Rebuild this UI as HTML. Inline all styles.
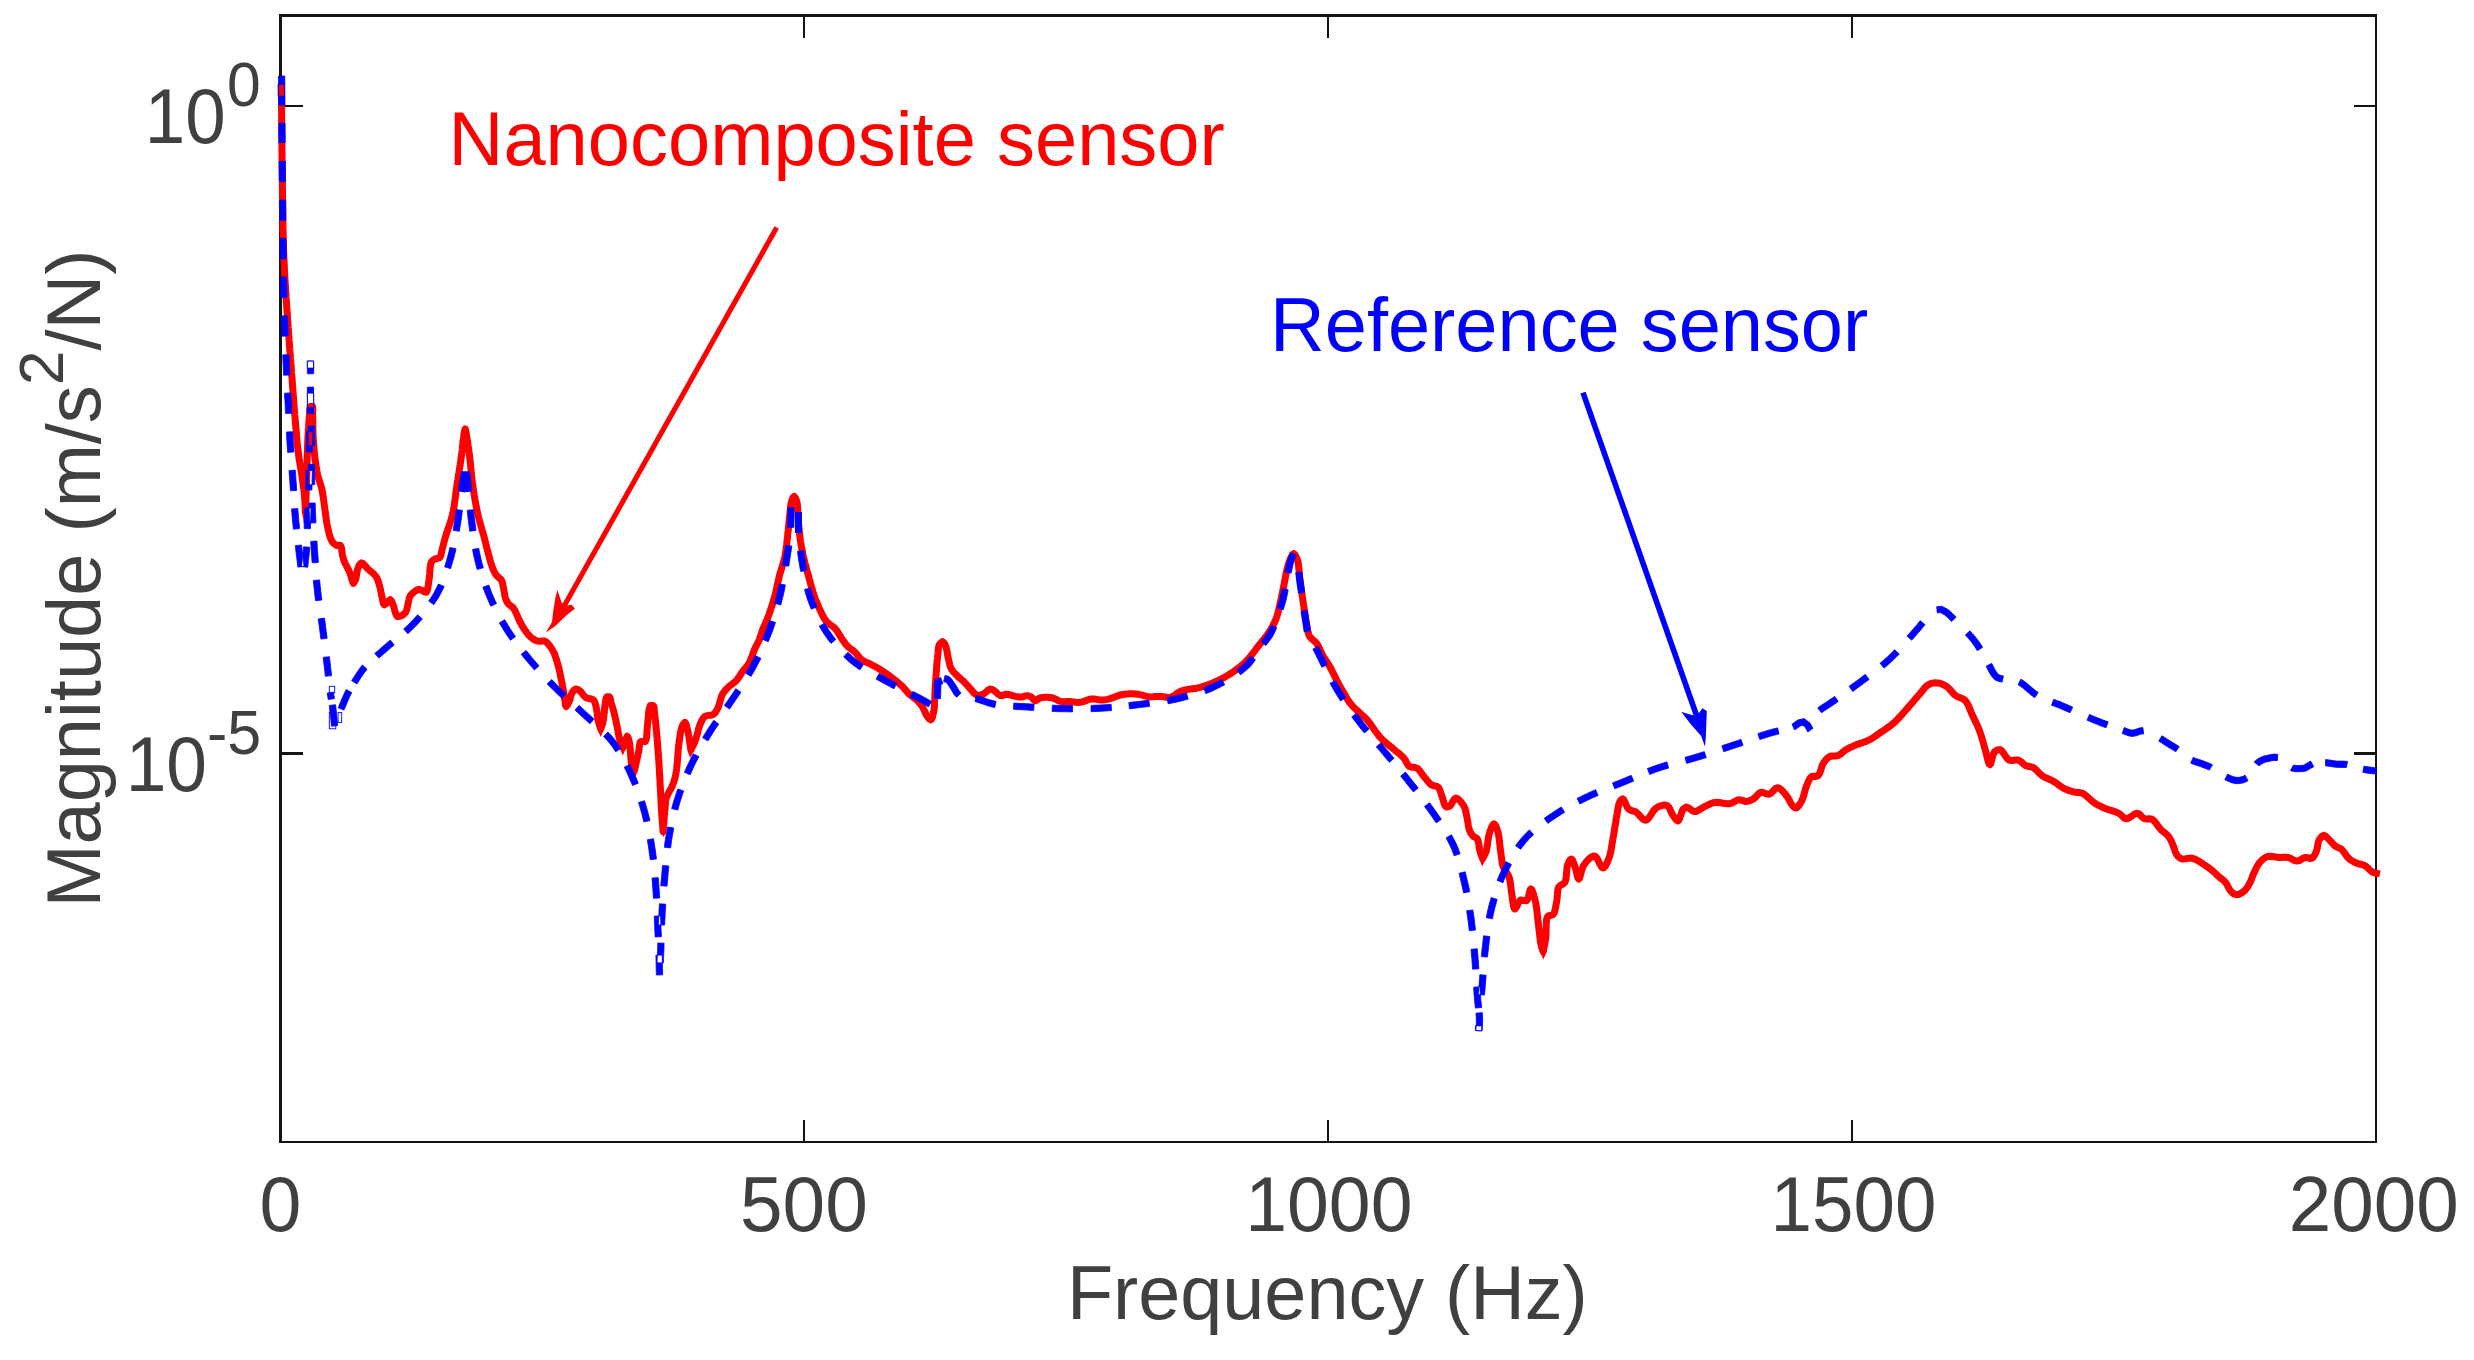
<!DOCTYPE html>
<html lang="en"><head><meta charset="utf-8"><title>Frequency response</title>
<style>html,body{margin:0;padding:0;background:#fff}body{width:2474px;height:1360px;position:relative;overflow:hidden}</style></head>
<body>
<svg width="2474" height="1360" viewBox="0 0 2474 1360" style="display:block;position:absolute;left:0;top:0">
<rect x="0" y="0" width="2474" height="1360" fill="#fff"/>
<g fill="#141414" shape-rendering="crispEdges">
<rect x="279" y="14" width="2098" height="3"/>
<rect x="279" y="1141" width="2098" height="2"/>
<rect x="279" y="14" width="3" height="1129"/>
<rect x="2375" y="14" width="2" height="1129"/>
<rect x="803" y="1120" width="2" height="22"/>
<rect x="803" y="16" width="2" height="22"/>
<rect x="1327" y="1120" width="2" height="22"/>
<rect x="1327" y="16" width="2" height="22"/>
<rect x="1851" y="1120" width="2" height="22"/>
<rect x="1851" y="16" width="2" height="22"/>
<rect x="281" y="104.8" width="22" height="2.4"/><rect x="2354" y="104.8" width="22" height="2.4"/>
<rect x="281" y="752" width="22" height="3"/><rect x="2354" y="752" width="22" height="3"/>
</g>
<polyline points="281.3,84.0 281.3,86.0 281.3,88.0 281.4,90.0 281.4,92.0 281.4,94.0 281.4,96.0 281.4,98.0 281.5,100.0 281.5,102.0 281.5,104.0 281.5,106.0 281.5,107.9 281.5,109.9 281.6,111.9 281.6,113.9 281.6,115.9 281.6,117.9 281.6,119.9 281.7,121.9 281.7,123.9 281.7,125.9 281.7,127.9 281.7,129.9 281.7,131.9 281.8,133.9 281.8,135.9 281.8,137.9 281.8,139.9 281.8,141.9 281.9,143.9 281.9,145.9 281.9,147.9 281.9,149.9 282.0,151.9 282.0,153.9 282.0,155.9 282.0,157.9 282.1,159.9 282.1,161.9 282.1,163.9 282.1,166.0 282.2,168.0 282.2,170.0 282.2,172.0 282.3,174.0 282.3,176.0 282.3,177.9 282.3,179.9 282.4,181.9 282.4,183.9 282.4,185.9 282.4,188.0 282.5,190.0 282.5,192.0 282.5,194.0 282.5,196.0 282.6,198.0 282.6,200.0 282.6,202.1 282.7,204.1 282.7,206.1 282.7,208.1 282.7,210.2 282.8,212.2 282.8,214.2 282.8,216.2 282.9,218.2 282.9,220.3 282.9,222.3 283.0,224.3 283.0,226.3 283.0,228.3 283.1,230.3 283.1,232.3 283.2,234.3 283.2,236.3 283.3,238.3 283.3,240.3 283.4,242.3 283.4,244.3 283.5,246.3 283.6,248.3 283.6,250.2 283.7,252.2 283.8,254.2 283.8,256.1 283.9,258.1 284.0,260.0 284.1,262.1 284.2,264.1 284.3,266.2 284.4,268.3 284.5,270.4 284.6,272.5 284.7,274.7 284.8,276.8 284.9,278.9 285.1,281.0 285.2,283.1 285.3,285.3 285.5,287.4 285.6,289.5 285.7,291.6 285.9,293.7 286.0,295.9 286.1,298.0 286.3,300.0 286.4,302.1 286.6,304.2 286.7,306.3 286.8,308.3 287.0,310.3 287.1,312.4 287.3,314.4 287.4,316.3 287.5,318.3 287.7,320.2 287.8,322.2 288.0,324.1 288.1,325.9 288.2,327.8 288.4,329.6 288.5,331.4 288.6,333.2 288.7,335.0 288.9,336.7 289.0,338.3 289.1,340.0 289.3,342.3 289.4,344.6 289.6,346.8 289.7,349.0 289.9,351.1 290.1,353.1 290.2,355.1 290.4,357.1 290.5,359.0 290.7,360.9 290.8,362.8 291.0,364.7 291.1,366.6 291.3,368.5 291.4,370.4 291.5,372.3 291.7,374.2 291.8,376.2 292.0,378.2 292.2,380.2 292.3,382.2 292.4,384.2 292.6,386.3 292.7,388.3 292.9,390.3 293.0,392.3 293.2,394.3 293.3,396.3 293.5,398.4 293.6,400.4 293.8,402.4 293.9,404.4 294.1,406.4 294.2,408.4 294.4,410.4 294.6,412.5 294.7,414.5 294.9,416.5 295.1,418.5 295.3,420.6 295.4,422.7 295.6,424.8 295.8,426.9 296.0,429.0 296.2,431.1 296.3,433.2 296.5,435.3 296.7,437.4 296.9,439.5 297.1,441.5 297.3,443.6 297.5,445.6 297.7,447.5 297.9,449.5 298.2,451.4 298.4,453.2 298.6,455.0 298.9,457.3 299.2,459.6 299.6,461.8 299.9,463.9 300.3,466.1 300.6,468.1 300.9,470.1 301.3,472.1 301.6,474.1 301.9,476.1 302.2,478.0 302.5,480.2 302.8,482.4 303.1,484.6 303.4,486.7 303.7,488.7 304.0,490.8 304.2,492.9 304.4,495.0 304.6,497.1 304.7,499.2 304.9,501.4 305.0,503.5 305.1,505.6 305.2,507.7 305.3,509.9 305.4,512.0 305.5,510.0 305.6,508.1 305.6,506.3 305.7,504.4 305.8,502.5 305.9,500.6 306.0,498.7 306.0,496.7 306.1,494.6 306.2,492.3 306.3,490.0 306.4,488.3 306.4,486.5 306.5,484.7 306.5,482.8 306.6,480.8 306.6,478.7 306.7,476.6 306.8,474.5 306.8,472.3 306.9,470.1 306.9,467.8 307.0,465.6 307.0,463.3 307.1,461.0 307.2,458.8 307.2,456.5 307.3,454.3 307.4,452.1 307.4,450.0 307.5,447.9 307.6,445.8 307.7,443.8 307.7,441.9 307.8,440.1 307.9,438.3 308.0,435.9 308.2,433.6 308.3,431.2 308.4,428.9 308.6,426.7 308.7,424.5 308.9,422.3 309.0,420.3 309.2,418.4 309.3,416.6 309.5,414.9 309.6,413.4 309.7,412.0 309.8,408.5 310.3,406.4 312.6,406.4 312.9,408.5 312.6,412.0 312.6,413.4 312.6,415.0 312.7,416.9 312.7,418.9 312.8,421.0 312.8,423.2 312.9,425.4 312.9,427.7 313.0,430.0 313.0,432.2 313.1,434.4 313.2,436.4 313.3,438.3 313.4,440.6 313.5,442.7 313.7,444.8 313.8,446.8 314.0,448.8 314.2,450.8 314.4,452.9 314.6,455.0 314.8,457.1 315.1,459.2 315.4,461.3 315.7,463.5 316.0,465.6 316.3,467.7 316.7,469.9 317.1,472.0 317.5,474.0 318.0,476.1 318.6,478.2 319.2,480.2 319.8,482.2 320.4,484.2 321.1,486.2 321.6,488.2 322.1,490.3 322.5,492.5 322.9,494.7 323.2,496.9 323.5,499.1 323.8,501.3 324.1,503.5 324.4,505.8 324.7,508.0 325.0,510.0 325.3,512.1 325.5,514.1 325.8,516.2 326.1,518.2 326.4,520.2 326.7,522.2 327.0,524.1 327.4,526.0 327.9,528.4 328.4,530.7 329.0,533.0 329.5,535.2 330.2,537.2 330.8,538.9 332.1,541.4 333.5,543.3 336.5,545.5 340.2,545.2 341.0,546.5 341.6,548.7 341.9,551.3 342.3,553.9 342.7,556.1 343.3,558.2 343.8,560.1 344.6,562.1 345.5,564.0 346.6,566.1 347.7,568.3 348.8,570.4 349.7,572.4 350.5,574.7 351.2,576.9 351.8,579.0 352.6,581.8 353.4,583.4 355.5,580.0 356.0,578.4 356.3,576.4 356.7,574.1 357.0,571.9 357.4,569.8 358.0,568.0 359.0,565.7 360.2,563.8 361.5,562.9 362.9,563.5 364.5,565.1 366.3,567.1 368.0,569.0 369.7,570.5 371.4,571.9 373.2,573.4 374.8,575.1 376.2,576.8 377.2,578.7 378.1,580.7 378.7,582.9 379.3,585.0 379.9,587.1 380.4,589.1 380.8,591.1 381.2,593.1 381.6,595.1 382.0,597.0 382.5,599.3 383.0,601.8 383.5,603.8 384.3,604.8 387.0,603.0 388.6,600.9 390.2,599.6 391.4,600.8 392.5,603.4 393.5,606.0 394.2,608.4 394.8,610.8 395.5,613.0 396.4,615.2 397.6,616.6 401.0,616.0 402.6,615.1 404.3,613.7 405.7,612.1 406.5,610.3 407.1,608.3 407.5,606.1 408.0,604.0 408.5,601.9 408.9,599.8 409.4,597.8 410.1,596.0 411.9,593.8 414.0,592.0 416.4,590.3 418.9,589.3 422.5,590.5 424.4,591.8 426.2,592.3 426.9,591.4 427.5,589.7 427.9,587.5 428.3,585.0 428.6,582.4 429.0,580.0 429.3,578.1 429.5,576.0 429.7,573.7 429.8,571.4 430.0,569.2 430.2,567.0 430.5,565.1 430.9,563.4 431.4,562.1 433.0,560.2 435.0,559.0 437.3,558.5 439.5,557.7 440.4,556.4 441.0,554.5 441.5,552.4 442.0,550.1 442.5,548.0 443.1,545.9 443.6,543.9 444.1,541.8 444.7,539.5 445.4,537.1 445.9,535.5 446.4,533.7 447.0,531.9 447.7,530.0 448.3,528.1 449.0,526.1 449.7,524.1 450.4,522.0 451.0,519.9 451.6,517.8 452.2,515.7 452.7,513.6 453.1,511.6 453.5,509.6 453.9,507.5 454.2,505.4 454.5,503.3 454.8,501.2 455.1,499.1 455.4,496.9 455.7,494.8 455.9,492.6 456.2,490.5 456.5,488.3 456.8,486.2 457.1,484.1 457.4,482.0 457.8,479.8 458.1,477.6 458.4,475.5 458.8,473.3 459.1,471.1 459.5,468.9 459.8,466.7 460.2,464.6 460.5,462.5 460.8,460.5 461.1,458.5 461.3,456.5 461.6,454.7 461.9,452.4 462.2,450.1 462.4,447.9 462.6,445.7 462.8,443.7 463.0,441.7 463.2,439.8 463.5,438.0 463.9,435.1 464.3,432.2 464.8,429.9 465.2,429.0 465.7,430.2 466.1,432.9 466.6,436.0 466.9,437.7 467.2,439.5 467.5,441.4 467.8,443.5 468.1,445.6 468.5,447.8 468.8,450.1 469.1,452.4 469.4,454.7 469.6,456.6 469.9,458.5 470.1,460.6 470.3,462.6 470.5,464.7 470.7,466.8 470.9,469.0 471.1,471.2 471.3,473.3 471.6,475.5 471.8,477.7 472.0,479.8 472.3,482.0 472.6,484.1 472.9,486.2 473.2,488.4 473.5,490.5 473.9,492.7 474.2,494.8 474.6,497.0 474.9,499.1 475.3,501.3 475.7,503.4 476.0,505.5 476.4,507.6 476.9,509.6 477.3,511.6 477.7,513.6 478.2,515.7 478.7,517.8 479.2,519.7 479.7,521.7 480.3,523.6 480.8,525.5 481.4,527.4 481.9,529.4 482.5,531.4 483.1,533.5 483.7,535.6 484.2,537.5 484.7,539.5 485.3,541.6 485.8,543.8 486.4,546.0 486.9,548.3 487.5,550.5 488.1,552.8 488.7,555.0 489.2,557.2 489.8,559.3 490.4,561.3 490.9,563.2 491.5,565.0 492.1,566.6 492.6,568.0 493.7,570.5 494.7,572.6 495.8,574.4 497.0,576.0 499.2,577.9 501.3,579.8 502.1,581.5 502.6,583.6 503.0,585.8 503.5,588.0 503.9,590.1 504.3,592.5 504.7,594.8 505.1,597.0 505.7,598.9 506.9,601.7 508.5,604.0 510.7,605.7 513.1,607.7 514.0,609.1 515.0,610.8 515.9,612.7 516.9,614.8 517.9,617.1 518.8,619.3 519.8,621.5 520.9,623.5 521.9,625.4 523.1,627.3 524.3,629.2 525.6,631.0 526.8,632.8 528.1,634.4 529.4,635.8 530.7,637.1 532.9,638.9 535.2,640.2 537.5,641.1 540.0,641.2 542.5,640.9 544.8,641.1 547.1,642.7 549.0,645.0 550.2,646.5 551.4,648.2 552.5,650.1 553.6,652.1 554.5,654.0 555.2,656.0 556.0,658.2 556.7,660.5 557.4,662.9 558.1,665.3 558.6,667.2 559.1,669.2 559.6,671.3 560.0,673.5 560.5,675.6 560.9,677.8 561.4,680.0 561.8,682.0 562.1,684.0 562.5,685.9 562.9,688.1 563.3,690.2 563.6,692.3 563.9,694.2 564.2,696.1 564.5,698.0 564.9,700.6 565.2,703.3 565.6,705.5 566.2,706.5 567.5,705.0 569.0,702.0 569.8,699.9 570.4,697.5 571.1,695.0 572.0,693.0 573.7,690.4 575.7,688.9 577.8,689.4 580.0,691.0 581.4,692.5 582.9,694.4 584.4,696.2 586.0,697.7 588.5,698.5 591.2,698.9 593.4,699.9 594.5,701.5 595.2,703.5 595.8,705.7 596.3,708.0 596.7,709.9 597.0,711.9 597.2,714.0 597.4,716.0 597.7,718.1 598.0,720.0 598.6,722.4 599.3,724.6 600.0,726.8 600.7,729.0 601.5,726.8 602.3,724.6 603.0,722.0 603.3,720.3 603.6,718.4 603.8,716.3 604.1,714.1 604.3,711.9 604.5,709.7 604.7,707.6 604.9,705.7 605.2,704.0 605.6,701.0 606.1,698.4 606.9,696.8 609.5,696.8 610.3,698.3 610.7,700.6 611.2,703.0 611.9,705.2 612.6,707.5 613.3,709.9 614.0,712.4 614.5,714.5 615.0,716.7 615.5,719.0 616.0,721.3 616.5,723.7 617.0,726.0 617.4,728.1 617.8,730.2 618.2,732.4 618.6,734.6 619.0,736.7 619.4,738.6 619.9,740.4 620.8,743.0 621.8,745.2 622.9,747.5 624.0,745.9 625.0,744.0 625.6,741.9 626.1,739.3 626.7,737.1 627.2,736.2 628.0,737.3 628.8,739.9 629.5,743.0 629.8,744.6 630.0,746.5 630.2,748.5 630.4,750.8 630.5,753.1 630.7,755.4 630.8,757.7 631.0,759.9 631.3,761.9 631.5,763.7 631.9,765.1 633.2,767.8 634.6,770.0 635.0,768.0 635.5,765.9 636.0,763.8 636.4,761.6 636.9,759.5 637.3,757.5 637.8,755.5 638.2,753.6 638.6,751.8 639.0,749.4 639.3,746.9 639.6,744.6 640.0,742.7 640.8,741.5 643.0,741.5 645.2,741.5 645.9,740.4 646.4,738.6 646.7,736.3 646.9,733.8 647.0,731.1 647.2,728.4 647.4,726.0 647.6,723.8 647.9,721.5 648.1,719.1 648.3,716.8 648.5,714.5 648.7,712.4 648.9,710.5 649.2,709.0 650.4,705.4 653.2,705.4 653.9,706.6 654.2,708.5 654.3,710.9 654.6,713.6 654.8,715.0 655.0,716.6 655.2,718.3 655.4,720.2 655.6,722.1 655.8,724.1 656.0,726.2 656.2,728.4 656.4,730.6 656.6,732.8 656.8,735.0 657.0,737.3 657.2,739.5 657.4,741.7 657.5,743.8 657.7,745.9 657.9,748.0 658.0,750.1 658.2,752.2 658.3,754.4 658.5,756.5 658.6,758.7 658.8,760.8 658.9,762.9 659.0,765.1 659.2,767.2 659.3,769.4 659.4,771.5 659.5,773.6 659.7,775.7 659.8,777.7 659.9,779.8 660.0,782.0 660.1,784.1 660.2,786.3 660.4,788.5 660.5,790.6 660.6,792.8 660.7,794.9 660.8,797.0 660.9,799.1 661.0,801.2 661.1,803.2 661.2,805.2 661.3,807.2 661.4,809.2 661.5,811.3 661.7,813.4 661.8,815.5 662.0,817.5 662.1,819.5 662.3,821.5 662.5,823.5 662.6,825.5 662.8,827.5 662.9,829.5 663.1,831.5 663.3,829.4 663.4,827.3 663.6,825.2 663.8,823.1 664.0,821.0 664.1,818.9 664.3,816.8 664.5,814.8 664.6,812.8 664.8,811.0 665.0,809.2 665.2,806.6 665.4,804.2 665.6,801.9 665.9,799.7 666.5,797.4 667.3,795.4 668.2,793.5 669.3,791.6 670.4,789.7 671.5,787.7 672.4,785.7 673.2,783.6 673.9,781.6 674.5,779.5 675.1,777.3 675.6,775.0 676.1,772.4 676.4,770.6 676.7,768.7 676.9,766.7 677.1,764.6 677.3,762.4 677.5,760.2 677.7,757.9 677.8,755.6 678.0,753.3 678.2,751.1 678.3,748.9 678.5,746.8 678.8,744.9 679.0,743.0 679.3,740.7 679.6,738.4 680.0,736.1 680.3,733.9 680.6,731.9 681.0,730.0 681.5,728.3 682.0,726.8 683.4,723.8 684.9,722.4 685.7,723.3 686.5,725.5 687.1,728.4 687.8,731.2 688.2,733.0 688.6,734.9 688.9,736.9 689.3,739.1 689.6,741.3 689.9,743.5 690.2,745.7 690.6,747.9 690.9,750.0 691.8,748.1 692.8,746.1 693.7,744.2 694.6,742.2 695.5,740.0 696.1,738.1 696.7,736.1 697.3,734.0 697.9,731.8 698.4,729.6 699.0,727.5 699.6,725.6 700.3,723.9 701.3,721.7 702.2,719.7 703.4,717.9 704.8,716.5 706.8,715.7 709.2,715.4 711.6,715.1 713.6,714.3 715.4,712.5 716.7,710.3 718.0,707.7 718.7,706.0 719.3,704.1 719.8,702.1 720.4,700.0 721.0,698.0 721.6,696.1 722.4,694.4 723.7,692.3 725.1,690.5 726.7,688.7 728.3,687.1 730.1,685.6 732.0,684.2 733.9,682.8 735.7,681.2 737.0,679.7 738.3,678.0 739.5,676.2 740.7,674.3 741.8,672.6 743.0,670.9 744.5,669.0 746.0,667.3 747.5,665.6 748.9,663.5 749.8,661.7 750.7,659.6 751.6,657.4 752.4,655.1 753.2,652.9 754.0,650.7 754.8,648.8 756.0,646.4 757.1,644.2 758.2,642.1 759.2,640.0 759.9,638.0 760.5,636.1 761.1,634.1 761.8,631.8 762.4,630.1 763.2,628.3 764.0,626.4 764.8,624.5 765.7,622.4 766.6,620.4 767.5,618.3 768.3,616.2 769.1,614.2 769.8,612.1 770.5,610.0 771.2,607.9 771.9,605.8 772.6,603.7 773.2,601.5 773.8,599.4 774.4,597.2 775.0,595.1 775.5,593.0 776.1,590.8 776.5,588.7 777.0,586.5 777.5,584.4 777.9,582.2 778.4,580.1 778.9,578.0 779.4,575.9 779.9,573.9 780.5,572.0 781.1,570.1 781.7,568.1 782.3,566.2 782.9,564.3 783.5,562.3 784.0,560.4 784.5,558.3 784.9,556.4 785.2,554.5 785.6,552.5 785.9,550.5 786.1,548.4 786.4,546.4 786.7,544.4 786.9,542.3 787.1,540.3 787.4,538.2 787.6,536.2 787.8,534.2 788.0,532.1 788.3,530.0 788.4,527.9 788.6,525.9 788.8,523.8 789.0,521.7 789.2,519.7 789.4,517.8 789.6,515.9 789.8,514.1 790.1,511.5 790.3,509.0 790.6,506.6 790.9,504.3 791.3,502.2 791.8,500.5 792.9,497.8 794.2,496.5 795.6,498.2 796.8,501.5 797.2,503.1 797.4,505.0 797.6,507.1 797.7,509.3 797.8,511.6 797.9,514.0 798.0,516.3 798.2,518.6 798.4,520.6 798.5,522.6 798.7,524.6 798.9,526.7 799.1,528.8 799.3,530.9 799.5,533.0 799.7,535.0 799.9,537.1 800.2,539.1 800.5,541.3 800.9,543.4 801.2,545.6 801.6,547.7 802.0,549.8 802.4,551.9 802.9,554.1 803.3,556.2 803.8,558.3 804.3,560.4 804.8,562.6 805.4,564.7 806.0,566.8 806.5,569.0 807.1,571.1 807.7,573.2 808.3,575.3 808.9,577.4 809.4,579.4 810.0,581.4 810.5,583.4 811.1,585.4 811.6,587.4 812.2,589.3 812.7,591.3 813.4,593.2 814.0,595.1 814.7,597.2 815.5,599.3 816.3,601.4 817.2,603.5 818.0,605.5 818.9,607.5 819.7,609.4 820.6,611.2 821.7,613.5 822.8,615.7 823.9,617.7 825.1,619.7 826.5,621.5 828.1,623.1 830.0,624.6 831.9,625.9 833.8,627.3 835.4,628.9 836.7,630.6 837.9,632.3 839.0,634.1 840.1,635.9 841.2,637.7 842.3,639.4 843.5,641.1 844.6,642.7 845.8,644.3 847.1,645.8 848.8,647.4 850.7,648.8 852.7,650.2 854.5,651.7 856.0,653.3 857.4,655.0 858.8,656.7 860.2,658.4 861.8,659.8 863.9,661.1 866.1,662.1 868.4,663.1 870.7,664.2 872.7,665.3 874.8,666.4 876.8,667.5 878.9,668.7 881.0,670.0 882.7,671.1 884.5,672.3 886.3,673.6 888.1,674.9 889.9,676.2 891.6,677.5 893.2,678.7 895.1,680.2 896.9,681.6 898.7,683.1 900.4,684.6 902.1,686.1 903.6,687.7 905.1,689.4 906.5,691.1 907.9,692.7 909.4,694.2 911.2,695.7 913.2,697.1 915.0,698.5 916.8,700.0 918.4,701.7 919.9,703.5 921.4,705.4 922.7,707.4 923.9,709.6 925.0,712.0 926.0,714.3 927.1,716.2 929.0,718.7 930.8,719.8 931.7,718.9 932.5,717.0 933.1,714.5 933.7,711.8 934.0,710.2 934.2,708.3 934.4,706.4 934.5,704.3 934.6,702.1 934.7,699.9 934.8,697.6 934.9,695.2 935.0,692.9 935.1,690.6 935.2,688.3 935.3,686.3 935.5,684.2 935.6,682.0 935.8,679.8 935.9,677.6 936.0,675.4 936.2,673.1 936.4,670.9 936.5,668.7 936.7,666.6 936.8,664.5 937.0,662.5 937.2,660.6 937.4,658.8 937.6,656.3 937.9,653.8 938.1,651.5 938.3,649.2 938.6,647.2 939.0,645.5 939.6,644.1 942.5,641.6 944.1,643.0 945.5,645.6 946.1,647.3 946.6,649.5 947.1,651.8 947.5,654.2 947.9,656.6 948.4,658.8 948.9,661.0 949.4,663.2 949.9,665.3 950.6,667.3 951.4,669.1 952.9,671.3 954.6,673.1 956.5,675.0 958.2,676.7 960.1,678.3 962.0,680.0 963.9,681.7 965.4,683.3 966.9,684.9 968.4,686.6 969.8,688.2 971.2,689.7 972.9,691.8 974.6,693.7 976.4,694.9 978.5,695.2 980.8,694.9 983.0,694.2 984.9,693.0 986.8,691.3 988.6,689.8 990.3,689.0 992.6,689.7 994.8,691.2 996.7,692.8 998.6,694.5 1000.6,695.6 1002.5,695.4 1004.4,694.6 1006.5,694.2 1008.6,694.5 1011.0,695.1 1013.3,695.9 1015.4,696.4 1018.4,696.9 1021.2,697.1 1023.2,696.6 1025.2,695.9 1027.1,695.6 1029.4,696.1 1031.5,697.1 1033.3,699.2 1035.2,700.8 1036.7,700.2 1038.4,698.9 1040.4,697.8 1042.4,697.4 1044.8,697.2 1047.3,697.3 1049.8,697.4 1052.1,697.8 1054.4,698.6 1056.6,699.7 1058.8,700.8 1061.0,701.5 1063.2,701.7 1065.3,701.7 1067.5,701.5 1069.8,701.5 1071.8,701.7 1073.8,701.9 1075.9,702.2 1078.0,702.4 1080.1,702.3 1082.1,701.9 1084.0,701.3 1086.1,700.6 1088.1,699.8 1090.0,699.2 1091.9,698.9 1094.2,699.0 1096.4,699.4 1098.5,699.8 1100.7,700.0 1102.9,699.9 1105.1,699.7 1107.3,699.4 1109.5,698.9 1111.7,698.2 1113.9,697.3 1116.1,696.4 1118.3,695.6 1120.5,695.0 1122.7,694.5 1124.9,694.2 1127.2,693.9 1129.2,693.8 1131.2,693.8 1133.3,693.8 1135.4,694.0 1137.5,694.2 1139.8,694.6 1142.2,695.2 1144.5,695.9 1146.9,696.4 1149.2,696.8 1151.3,696.9 1153.3,696.8 1155.4,696.6 1157.4,696.5 1159.5,696.4 1161.8,696.6 1164.3,696.9 1166.7,697.3 1169.1,697.4 1171.3,697.1 1173.2,696.3 1174.9,695.1 1176.6,693.8 1178.3,692.5 1180.1,691.5 1182.1,690.8 1184.2,690.2 1186.3,689.8 1188.4,689.4 1190.4,689.0 1192.6,688.7 1194.6,688.4 1196.8,688.2 1199.1,687.7 1200.9,687.2 1202.8,686.6 1204.9,685.9 1206.9,685.2 1209.1,684.4 1211.2,683.6 1213.3,682.7 1215.3,681.8 1217.1,681.0 1219.0,680.1 1220.8,679.2 1222.6,678.2 1224.4,677.3 1226.2,676.2 1228.0,675.2 1229.8,674.1 1231.5,673.0 1233.2,671.8 1234.9,670.6 1236.6,669.4 1238.3,668.1 1240.0,666.8 1241.6,665.5 1243.2,664.1 1244.7,662.7 1246.2,661.2 1247.6,659.7 1249.0,658.1 1250.4,656.5 1251.7,654.8 1253.0,653.1 1254.2,651.5 1255.5,649.8 1256.7,648.1 1258.0,646.5 1259.3,644.8 1260.7,643.2 1262.0,641.5 1263.4,639.9 1264.7,638.3 1265.9,636.6 1267.1,635.0 1268.3,633.3 1269.5,631.5 1270.7,629.6 1271.8,627.8 1272.8,625.9 1273.8,624.0 1274.7,622.0 1275.6,620.0 1276.3,618.1 1277.0,616.2 1277.5,614.2 1278.1,612.1 1278.6,610.1 1279.0,608.0 1279.5,606.0 1280.0,603.9 1280.5,602.0 1280.9,600.0 1281.3,598.1 1281.7,596.1 1282.1,594.1 1282.5,592.2 1282.9,590.2 1283.3,588.2 1283.7,586.2 1284.1,584.2 1284.5,582.1 1284.9,580.0 1285.3,577.8 1285.7,575.7 1286.1,573.7 1286.5,571.7 1286.9,569.8 1287.4,568.0 1288.0,565.6 1288.7,563.4 1289.4,561.2 1290.1,559.3 1290.9,557.6 1292.3,555.0 1293.8,553.7 1295.0,554.7 1296.2,556.9 1297.3,559.6 1297.8,561.2 1298.2,563.1 1298.5,565.1 1298.7,567.3 1299.0,569.6 1299.2,572.0 1299.4,574.3 1299.6,576.7 1299.9,578.9 1300.2,580.9 1300.5,583.0 1300.7,585.0 1301.0,587.0 1301.3,589.1 1301.6,591.1 1301.9,593.2 1302.2,595.3 1302.5,597.4 1302.8,599.5 1303.1,601.6 1303.4,603.8 1303.8,606.0 1304.1,608.2 1304.4,610.5 1304.8,612.7 1305.1,614.9 1305.5,617.0 1305.8,619.1 1306.1,621.1 1306.5,623.0 1306.9,625.5 1307.3,627.9 1307.6,630.2 1308.1,632.3 1308.7,634.3 1309.5,636.2 1310.7,637.9 1312.2,639.3 1313.8,640.6 1315.4,642.0 1316.8,643.6 1317.9,645.4 1318.9,647.3 1319.8,649.3 1320.7,651.4 1321.7,653.4 1322.7,655.4 1323.9,657.4 1325.1,659.3 1326.4,661.2 1327.7,663.2 1328.9,665.1 1330.1,667.1 1331.1,669.0 1332.1,671.0 1333.1,672.9 1334.0,674.9 1335.0,676.9 1336.0,678.9 1337.0,680.8 1338.0,682.7 1339.0,684.6 1340.1,686.5 1341.2,688.4 1342.2,690.3 1343.3,692.1 1344.5,694.1 1345.7,696.2 1346.9,698.2 1348.1,700.2 1349.3,702.1 1350.7,703.9 1352.1,705.5 1353.5,707.1 1355.0,708.5 1356.6,710.0 1358.1,711.3 1359.5,712.7 1361.3,714.4 1363.1,715.9 1364.9,717.5 1366.8,719.4 1367.9,720.7 1369.0,722.1 1370.2,723.7 1371.3,725.4 1372.5,727.1 1373.7,728.9 1375.0,730.6 1376.2,732.4 1377.5,734.0 1378.7,735.6 1380.0,737.1 1381.6,738.8 1383.3,740.4 1385.0,741.9 1386.7,743.4 1388.4,744.8 1390.1,746.2 1391.7,747.5 1393.3,748.9 1395.1,750.4 1397.0,751.9 1398.8,753.3 1400.5,754.7 1402.1,756.2 1403.6,757.7 1404.9,759.5 1406.0,761.5 1407.0,763.5 1408.1,765.2 1409.4,766.5 1411.7,767.2 1414.3,767.3 1416.8,768.0 1418.4,769.3 1419.9,771.0 1421.3,772.9 1422.7,774.9 1424.2,776.8 1425.6,778.5 1427.1,780.4 1428.5,782.1 1430.0,783.7 1431.5,784.9 1433.8,785.7 1436.1,786.1 1438.1,787.1 1439.3,788.8 1440.2,791.0 1441.0,793.5 1441.8,795.9 1442.6,798.3 1443.4,801.0 1444.2,803.7 1445.1,805.8 1446.2,807.0 1450.0,806.0 1451.4,804.2 1452.8,801.6 1454.2,799.2 1455.8,798.1 1457.4,798.6 1459.2,800.0 1460.9,801.9 1462.6,804.1 1463.9,806.2 1464.8,808.1 1465.4,810.1 1465.9,812.1 1466.3,814.3 1466.8,816.5 1467.2,818.5 1467.6,820.7 1468.0,823.0 1468.3,825.3 1468.7,827.5 1469.2,829.5 1469.8,831.2 1470.9,833.3 1472.1,835.0 1473.4,836.4 1475.3,837.4 1477.1,838.6 1477.9,840.2 1478.4,842.3 1478.9,844.7 1479.2,847.3 1479.6,849.7 1480.1,851.8 1480.9,854.2 1481.7,856.4 1482.6,858.5 1483.8,856.4 1484.9,854.3 1486.0,851.8 1486.5,850.1 1486.9,848.1 1487.3,845.9 1487.6,843.6 1487.9,841.2 1488.3,838.9 1488.6,836.6 1489.1,834.5 1489.6,832.7 1490.6,829.8 1491.7,827.0 1492.9,824.8 1494.0,823.9 1495.0,824.6 1496.0,826.4 1496.9,828.7 1497.7,831.2 1498.1,832.8 1498.5,834.7 1498.9,836.7 1499.2,838.8 1499.4,841.0 1499.7,843.3 1499.9,845.5 1500.2,847.7 1500.4,849.8 1500.7,851.8 1501.0,854.1 1501.3,856.4 1501.6,858.7 1501.9,860.9 1502.2,863.0 1502.7,865.1 1503.3,867.0 1504.3,869.0 1505.5,870.8 1506.7,872.6 1507.9,874.4 1508.9,876.5 1509.5,878.4 1509.9,880.5 1510.3,882.7 1510.6,885.0 1510.9,887.3 1511.2,889.7 1511.5,891.9 1511.8,894.1 1512.2,896.5 1512.5,899.2 1512.8,902.0 1513.2,904.6 1513.6,906.7 1514.1,908.2 1514.8,908.9 1515.7,908.2 1516.8,906.2 1518.0,903.7 1519.2,901.4 1520.6,900.0 1523.6,900.5 1526.5,900.8 1527.5,899.4 1528.3,897.1 1529.0,894.4 1529.6,891.8 1530.2,889.8 1530.9,889.0 1531.7,889.6 1532.5,891.2 1533.3,893.4 1534.0,896.1 1534.8,898.9 1535.4,901.5 1535.8,903.3 1536.1,905.1 1536.4,907.0 1536.7,909.0 1536.9,911.1 1537.2,913.2 1537.4,915.3 1537.6,917.4 1537.8,919.5 1538.0,921.6 1538.3,923.6 1538.6,925.7 1538.8,927.8 1539.1,930.0 1539.3,932.2 1539.6,934.4 1539.8,936.6 1540.1,938.6 1540.3,940.6 1540.6,942.5 1540.9,944.1 1541.2,945.6 1541.8,947.9 1542.5,949.7 1543.2,951.5 1543.6,949.3 1544.1,947.2 1544.5,945.1 1544.9,943.0 1545.3,940.7 1545.7,938.3 1545.9,936.4 1546.0,934.3 1546.1,932.0 1546.1,929.6 1546.2,927.2 1546.2,924.8 1546.3,922.6 1546.5,920.5 1546.8,918.7 1547.3,917.3 1547.9,916.2 1550.4,915.4 1553.0,914.7 1554.0,913.3 1554.7,911.3 1555.3,909.0 1555.8,906.5 1556.2,903.9 1556.7,901.5 1557.0,899.4 1557.2,897.1 1557.4,894.7 1557.5,892.5 1557.8,890.3 1558.2,888.4 1558.9,886.8 1560.7,885.2 1562.9,884.1 1564.8,882.4 1565.5,880.7 1566.0,878.7 1566.3,876.3 1566.5,873.7 1566.7,871.2 1566.9,868.7 1567.2,866.5 1567.7,864.7 1568.8,862.1 1570.1,859.9 1571.4,859.0 1572.4,859.9 1573.3,861.9 1574.2,864.5 1575.1,867.0 1575.8,869.1 1576.4,871.7 1576.9,874.3 1577.5,876.7 1578.1,878.3 1578.8,879.0 1579.4,878.4 1580.0,876.9 1580.6,874.7 1581.2,872.1 1582.0,869.5 1582.8,867.0 1583.9,865.0 1585.4,863.0 1587.1,860.9 1589.0,858.9 1590.9,857.3 1592.8,856.3 1594.5,856.0 1595.9,856.8 1597.2,858.6 1598.4,860.9 1599.6,863.4 1600.8,865.7 1601.9,867.4 1603.0,868.0 1604.3,867.3 1605.6,865.6 1606.8,863.3 1608.0,860.6 1609.0,858.0 1609.6,856.3 1610.1,854.4 1610.6,852.4 1611.0,850.3 1611.4,848.1 1611.8,845.9 1612.1,843.7 1612.5,841.5 1612.8,839.3 1613.2,837.1 1613.6,835.1 1613.9,833.1 1614.3,831.0 1614.6,828.9 1614.9,826.8 1615.3,824.8 1615.6,822.7 1615.9,820.7 1616.2,818.8 1616.6,816.9 1616.9,815.1 1617.3,812.6 1617.7,810.0 1618.1,807.6 1618.6,805.3 1619.1,803.4 1619.8,801.8 1621.2,799.7 1622.8,798.9 1623.9,799.9 1624.9,802.0 1626.0,804.7 1627.3,807.3 1628.7,809.2 1631.0,810.4 1633.5,811.1 1636.0,812.1 1637.6,813.4 1639.2,815.1 1640.8,816.9 1642.4,818.6 1644.0,819.8 1645.6,820.2 1647.0,819.7 1648.3,818.5 1649.6,816.7 1651.0,814.7 1652.3,812.6 1653.7,810.6 1655.1,808.9 1656.6,807.7 1658.6,806.6 1660.8,805.8 1663.0,805.2 1665.1,805.1 1666.9,805.5 1668.4,806.7 1669.6,808.6 1670.7,810.9 1671.7,813.2 1672.8,815.1 1674.5,817.7 1676.3,820.0 1677.9,820.9 1678.8,820.1 1679.7,818.2 1680.5,815.8 1681.4,813.2 1682.2,810.8 1683.1,809.2 1686.4,807.0 1688.2,807.7 1690.3,809.2 1692.5,810.8 1694.7,811.6 1696.5,811.3 1698.3,810.4 1700.1,809.3 1702.0,808.1 1703.9,807.0 1706.0,806.0 1708.1,804.9 1710.3,803.8 1712.5,803.0 1714.9,802.4 1716.9,802.3 1719.1,802.5 1721.3,802.8 1723.5,803.3 1725.7,803.6 1727.8,803.8 1729.7,803.7 1731.7,803.1 1733.6,802.1 1735.4,801.1 1737.2,800.2 1738.9,799.7 1741.4,800.1 1743.8,801.0 1746.2,801.5 1748.7,801.1 1751.2,800.1 1753.6,798.8 1755.5,797.2 1757.2,795.2 1759.0,793.4 1760.9,792.3 1762.9,792.4 1765.0,793.2 1767.1,794.1 1769.2,794.2 1770.9,793.3 1772.6,791.6 1774.2,789.8 1775.8,788.3 1777.5,787.7 1779.1,788.1 1780.7,789.2 1782.3,790.7 1783.9,792.5 1785.4,794.3 1786.7,796.0 1788.0,797.8 1789.1,799.9 1790.1,801.9 1791.1,803.7 1792.2,805.2 1794.0,807.2 1795.9,808.0 1797.3,807.3 1798.7,805.7 1800.1,803.7 1801.4,801.5 1802.2,799.8 1803.0,797.8 1803.6,795.7 1804.3,793.4 1804.9,791.1 1805.5,788.9 1806.2,786.8 1806.9,785.0 1807.9,782.5 1809.0,780.1 1810.1,778.1 1811.5,776.7 1813.5,776.2 1815.8,776.4 1817.9,775.8 1818.9,774.6 1819.8,773.0 1820.5,770.9 1821.2,768.8 1821.8,766.6 1822.6,764.6 1823.5,762.9 1824.9,760.9 1826.5,759.1 1828.1,757.6 1829.9,756.5 1831.9,756.0 1834.0,755.9 1836.2,755.9 1838.2,755.5 1840.1,754.4 1841.9,753.0 1843.6,751.4 1845.5,750.0 1847.2,749.0 1849.0,748.1 1850.8,747.2 1852.7,746.3 1854.7,745.4 1856.6,744.6 1858.7,743.9 1860.9,743.2 1863.1,742.4 1865.3,741.7 1867.4,740.8 1869.4,739.9 1871.4,738.8 1873.2,737.6 1875.1,736.4 1876.8,735.1 1878.6,733.8 1880.5,732.5 1882.3,731.3 1884.2,730.1 1886.0,728.8 1887.9,727.5 1889.8,726.2 1891.6,724.8 1893.4,723.3 1894.9,722.0 1896.3,720.5 1897.8,719.0 1899.2,717.5 1900.6,716.0 1902.0,714.4 1903.4,712.8 1904.8,711.2 1906.2,709.6 1907.7,708.0 1909.1,706.3 1910.6,704.6 1912.1,702.9 1913.5,701.2 1915.0,699.5 1916.4,697.9 1917.8,696.3 1919.1,694.8 1920.7,692.9 1922.2,691.0 1923.7,689.1 1925.1,687.3 1926.7,685.9 1928.3,684.7 1930.5,683.7 1932.8,683.1 1935.2,682.8 1937.5,682.9 1939.8,683.3 1942.2,684.1 1944.5,685.3 1946.7,686.6 1948.3,687.9 1949.8,689.4 1951.3,691.1 1952.8,692.9 1954.3,694.5 1955.9,695.8 1957.7,696.8 1959.7,697.6 1961.6,698.3 1963.4,699.1 1965.1,700.4 1966.2,701.8 1967.3,703.4 1968.2,705.1 1969.1,707.1 1969.9,709.1 1970.7,711.1 1971.5,713.1 1972.4,715.1 1973.2,716.9 1974.1,718.7 1975.0,720.5 1975.8,722.3 1976.7,724.1 1977.5,726.0 1978.3,727.8 1979.1,729.7 1979.8,731.6 1980.5,733.6 1981.2,735.6 1981.8,737.7 1982.4,739.8 1983.0,741.9 1983.6,744.0 1984.1,746.0 1984.7,748.0 1985.3,750.0 1986.0,752.4 1986.6,755.2 1987.3,758.0 1987.9,760.5 1988.6,762.7 1989.2,764.1 1989.9,764.7 1990.6,763.9 1991.2,761.9 1991.9,759.2 1992.6,756.3 1993.5,753.7 1994.5,751.9 1997.1,750.0 2000.0,749.6 2001.5,750.5 2002.9,752.3 2004.4,754.5 2005.9,756.8 2007.5,758.8 2009.2,760.1 2011.4,760.5 2013.8,760.2 2016.2,759.9 2018.4,760.1 2020.4,761.2 2022.2,762.7 2023.9,764.3 2025.8,765.6 2028.2,766.3 2030.7,766.7 2033.1,767.5 2034.6,768.5 2036.1,769.9 2037.6,771.4 2039.1,773.0 2040.7,774.5 2042.3,775.8 2044.0,776.9 2045.9,777.8 2047.8,778.6 2049.7,779.5 2051.6,780.3 2053.4,781.3 2055.3,782.5 2057.1,783.7 2058.9,785.1 2060.7,786.4 2062.5,787.6 2064.4,788.6 2066.6,789.6 2068.9,790.4 2071.1,791.2 2073.4,791.8 2075.4,792.3 2077.7,792.5 2079.8,792.6 2082.1,793.1 2083.6,793.9 2085.1,795.0 2086.7,796.3 2088.3,797.7 2090.0,799.2 2091.6,800.7 2093.3,802.1 2094.9,803.2 2096.7,804.3 2098.6,805.3 2100.4,806.2 2102.2,807.1 2104.1,807.9 2106.0,808.7 2108.1,809.5 2110.3,810.2 2112.6,810.9 2114.8,811.6 2116.9,812.4 2118.8,813.3 2120.8,814.8 2122.6,816.5 2124.3,818.1 2126.2,818.8 2127.9,818.5 2129.8,817.4 2131.7,816.1 2133.6,814.7 2135.5,813.6 2137.2,813.3 2139.2,814.1 2141.0,815.8 2142.7,817.6 2144.6,818.8 2147.0,819.0 2149.5,818.8 2151.9,819.2 2153.3,820.1 2154.6,821.5 2155.9,823.1 2157.2,824.9 2158.5,826.7 2159.8,828.3 2161.1,829.8 2163.0,831.5 2165.0,833.0 2166.9,834.6 2168.5,836.3 2169.6,838.0 2170.6,839.7 2171.5,841.6 2172.3,843.5 2173.1,845.4 2174.0,847.8 2174.8,850.3 2175.6,852.6 2176.7,854.6 2178.0,856.3 2179.5,857.7 2181.3,858.7 2183.2,859.0 2185.4,858.8 2187.8,858.4 2190.2,858.1 2192.4,858.3 2194.3,858.9 2196.2,859.7 2198.0,860.7 2199.7,861.8 2201.5,862.9 2203.4,864.1 2205.2,865.3 2207.1,866.6 2208.9,867.9 2210.7,869.3 2212.3,870.6 2213.9,872.0 2215.5,873.5 2217.0,875.0 2218.5,876.3 2219.9,877.6 2221.9,879.1 2223.7,880.5 2225.4,882.2 2226.6,883.9 2227.6,885.9 2228.7,887.9 2229.8,889.9 2231.0,891.4 2232.7,893.0 2234.6,894.2 2236.5,894.7 2238.3,894.5 2240.2,893.7 2242.1,892.6 2243.8,891.4 2245.4,889.9 2246.8,888.1 2248.1,886.1 2249.3,884.0 2250.3,882.0 2251.2,879.8 2252.1,877.5 2252.9,875.2 2253.9,873.0 2254.9,870.9 2255.9,868.7 2256.9,866.7 2258.1,864.7 2259.4,862.9 2260.8,861.3 2262.4,859.8 2264.1,858.4 2265.8,857.3 2267.7,856.5 2269.8,856.2 2272.0,856.4 2274.3,856.7 2276.6,857.2 2278.8,857.4 2281.1,857.4 2283.4,857.2 2285.7,857.2 2287.9,857.4 2290.2,858.2 2292.6,859.5 2294.8,860.6 2297.1,861.1 2299.2,860.6 2301.3,859.4 2303.4,858.1 2305.4,857.4 2307.7,857.7 2309.9,858.4 2311.8,858.3 2313.2,857.2 2314.4,855.3 2315.5,853.2 2316.4,851.0 2317.1,848.9 2317.5,846.5 2317.9,844.1 2318.4,841.8 2319.2,839.9 2320.6,837.8 2322.1,836.1 2323.8,835.3 2325.6,836.1 2327.4,837.9 2329.3,839.9 2330.9,841.5 2332.5,843.3 2334.1,845.0 2335.7,846.4 2337.6,847.4 2339.4,848.0 2341.3,849.1 2342.8,850.6 2344.2,852.5 2345.6,854.6 2347.1,856.6 2348.6,858.3 2350.3,859.7 2352.2,860.9 2354.0,862.0 2356.0,862.9 2358.2,863.7 2360.6,864.2 2362.9,864.8 2365.1,865.7 2367.1,867.2 2368.8,869.0 2370.6,870.7 2372.5,872.1 2374.9,873.0 2377.4,873.4 2379.9,873.9" fill="none" stroke="#ff0000" stroke-width="7" stroke-linejoin="round" stroke-linecap="butt"/>
<polygon points="301.9,511.6 304.0,523.8 308.9,512.4" fill="#ff0000"/>
<polygon points="659.6,831.4 663.8,837.0 666.6,830.6" fill="#ff0000"/>
<polygon points="597.2,729.0 600.7,737.0 604.2,729.0" fill="#ff0000"/>
<polygon points="619.4,747.5 622.8,755.5 626.4,747.5" fill="#ff0000"/>
<polygon points="631.1,770.3 635.2,778.0 638.1,769.8" fill="#ff0000"/>
<polygon points="687.4,749.6 690.0,758.0 694.4,750.4" fill="#ff0000"/>
<polygon points="1479.1,858.3 1482.1,866.5 1486.1,858.7" fill="#ff0000"/>
<polygon points="1539.7,951.6 1543.5,959.5 1546.7,951.4" fill="#ff0000"/>
<path d="M278.5,76.0 L278.5,79.1 L278.5,82.1 L278.5,85.1 L278.5,88.1 L278.6,91.1 L278.6,94.1 L278.6,97.0 L278.6,100.0 L278.6,103.0 L278.7,105.0 L285.0,105.0 L284.9,103.0 L284.9,100.0 L284.9,97.0 L284.9,94.0 L284.9,91.0 L284.8,88.0 L284.8,85.0 L284.8,82.0 L284.8,79.0 L284.7,76.0Z M278.8,123.2 L278.8,123.9 L278.8,126.9 L278.8,129.9 L278.8,132.9 L278.9,135.9 L278.9,139.0 L278.9,142.0 L278.9,142.7 L285.2,142.6 L285.2,141.9 L285.2,138.9 L285.2,135.9 L285.1,132.9 L285.1,129.8 L285.1,126.8 L285.1,123.8 L285.1,123.1Z M279.1,161.4 L279.1,163.7 L279.1,166.8 L279.2,170.0 L279.2,172.9 L279.2,175.9 L279.2,178.9 L279.3,181.7 L285.6,181.6 L285.5,178.8 L285.5,175.8 L285.5,172.9 L285.4,170.0 L285.4,166.8 L285.4,163.6 L285.4,161.3Z M279.4,200.0 L279.4,200.4 L279.4,203.5 L279.4,206.7 L279.5,209.8 L279.5,213.0 L279.5,216.2 L279.5,219.4 L279.6,220.3 L285.9,220.2 L285.8,219.3 L285.8,216.1 L285.8,213.0 L285.8,209.8 L285.7,206.6 L285.7,203.5 L285.7,200.3 L285.7,199.9Z M279.7,238.6 L279.8,241.6 L279.8,244.8 L279.8,247.9 L279.9,251.0 L279.9,254.1 L279.9,257.2 L280.0,258.9 L286.3,258.8 L286.2,257.1 L286.2,254.0 L286.2,250.9 L286.1,247.8 L286.1,244.7 L286.1,241.6 L286.0,238.5Z M280.3,277.1 L280.3,278.1 L280.3,281.0 L280.4,283.8 L280.5,286.6 L280.5,289.9 L280.6,293.2 L280.7,296.5 L280.7,297.4 L287.0,297.3 L287.0,296.3 L286.9,293.0 L286.8,289.7 L286.7,286.4 L286.7,283.6 L286.6,280.8 L286.6,278.0 L286.6,277.0Z M281.3,315.9 L281.3,316.0 L281.4,319.2 L281.5,322.3 L281.6,325.4 L281.7,328.5 L281.8,331.6 L281.9,334.6 L282.0,336.2 L288.3,335.9 L288.2,334.4 L288.1,331.4 L288.0,328.3 L287.9,325.2 L287.8,322.1 L287.7,318.9 L287.6,315.8 L287.6,315.7Z M282.7,354.9 L282.8,357.3 L282.9,360.0 L283.0,362.5 L283.2,365.0 L283.3,368.7 L283.5,372.2 L283.6,375.2 L289.9,374.9 L289.8,371.9 L289.6,368.4 L289.4,364.8 L289.3,362.3 L289.2,359.7 L289.1,357.1 L289.0,354.6Z M284.5,393.2 L284.6,394.0 L284.7,397.0 L284.9,400.1 L285.1,403.3 L285.2,406.2 L285.3,409.3 L285.5,412.3 L285.5,413.5 L291.8,413.2 L291.8,412.0 L291.6,409.0 L291.5,406.0 L291.3,402.9 L291.2,399.8 L291.0,396.7 L290.9,393.7 L290.8,392.9Z M286.4,432.0 L286.5,433.4 L286.6,436.5 L286.8,439.5 L287.0,442.5 L287.2,445.7 L287.4,448.9 L287.6,452.1 L287.6,452.4 L293.9,451.9 L293.9,451.7 L293.7,448.5 L293.4,445.3 L293.2,442.1 L293.1,439.1 L292.9,436.1 L292.7,433.1 L292.7,431.7Z M289.0,470.6 L289.1,471.2 L289.3,474.4 L289.5,477.5 L289.8,480.7 L290.0,483.9 L290.2,487.2 L290.4,490.4 L290.4,490.8 L296.7,490.4 L296.7,490.0 L296.5,486.7 L296.3,483.5 L296.0,480.3 L295.8,477.1 L295.6,473.9 L295.3,470.7 L295.3,470.1Z M291.6,508.9 L291.6,509.9 L291.9,513.0 L292.1,516.1 L292.4,519.1 L292.7,522.5 L293.0,525.8 L293.4,529.0 L293.4,529.2 L299.6,528.6 L299.6,528.4 L299.3,525.1 L298.9,521.9 L298.6,518.5 L298.4,515.6 L298.1,512.5 L297.9,509.4 L297.9,508.5Z M295.3,545.7 L295.5,547.4 L295.9,550.9 L296.3,554.2 L296.7,557.5 L297.1,560.7 L297.5,563.9 L297.9,567.1 L304.1,566.3 L303.7,563.2 L303.3,559.9 L302.9,556.7 L302.5,553.5 L302.1,550.1 L301.7,546.6 L301.5,545.0Z M278.2,84.3 L278.2,96.0 L284.4,96.0 L284.4,84.3Z M307.7,567.3 L308.1,564.0 L308.4,560.8 L308.8,557.6 L309.2,554.2 L309.5,550.8 L309.7,547.3 L303.5,546.8 L303.2,550.3 L302.9,553.6 L302.5,556.9 L302.2,560.1 L301.8,563.4 L301.5,566.6Z M310.4,528.7 L310.4,528.4 L310.5,525.1 L310.5,521.8 L310.6,518.4 L310.8,515.4 L310.9,512.4 L311.0,509.3 L311.1,508.1 L304.8,507.8 L304.7,509.0 L304.6,512.1 L304.5,515.2 L304.4,518.2 L304.2,521.6 L304.2,525.0 L304.1,528.3 L304.1,528.6Z M311.8,490.1 L311.8,490.0 L312.0,486.7 L312.1,483.5 L312.1,480.3 L312.2,477.1 L312.3,473.9 L312.3,470.7 L312.3,470.5 L306.0,470.4 L306.0,470.6 L306.0,473.8 L305.9,476.9 L305.9,480.1 L305.8,483.3 L305.7,486.5 L305.5,489.7 L305.5,489.8Z M312.5,452.0 L312.5,451.4 L312.5,448.2 L312.6,445.1 L312.6,441.9 L312.7,438.7 L312.8,435.5 L312.9,432.3 L312.9,431.7 L306.6,431.6 L306.6,432.1 L306.5,435.3 L306.4,438.5 L306.4,441.7 L306.3,445.0 L306.2,448.2 L306.2,451.4 L306.2,451.9Z M313.4,413.5 L313.5,413.1 L313.5,409.9 L313.6,406.6 L313.6,403.3 L313.7,400.4 L313.7,397.4 L313.7,394.4 L313.7,393.2 L307.4,393.1 L307.4,394.4 L307.4,397.3 L307.4,400.3 L307.4,403.3 L307.3,406.5 L307.2,409.8 L307.2,413.0 L307.1,413.4Z M313.7,373.8 L313.7,373.1 L313.7,370.1 L313.7,367.1 L313.7,364.0 L313.6,361.0 L307.4,361.0 L307.4,364.0 L307.4,367.1 L307.4,370.1 L307.4,373.2 L307.4,373.8Z M307.4,361.0 L307.3,364.0 L307.3,367.0 L307.3,368.1 L313.6,368.1 L313.6,367.0 L313.6,364.0 L313.6,361.0Z M307.3,387.2 L307.3,388.2 L307.3,391.2 L307.3,394.3 L307.4,397.3 L307.4,400.5 L307.5,403.7 L307.6,407.0 L307.6,407.5 L313.9,407.4 L313.9,406.8 L313.8,403.6 L313.7,400.4 L313.6,397.3 L313.6,394.2 L313.6,391.2 L313.6,388.1 L313.6,387.1Z M308.1,426.0 L308.1,426.3 L308.2,429.5 L308.3,432.7 L308.4,435.9 L308.4,439.1 L308.4,442.3 L308.4,445.5 L308.4,445.8 L314.7,445.9 L314.7,445.6 L314.7,442.3 L314.7,439.1 L314.6,435.9 L314.6,432.6 L314.5,429.4 L314.4,426.1 L314.4,425.9Z M308.3,464.3 L308.3,464.8 L308.3,468.1 L308.3,471.3 L308.4,474.5 L308.4,477.8 L308.4,481.0 L308.5,484.2 L308.5,484.7 L314.8,484.6 L314.8,484.1 L314.7,480.9 L314.7,477.7 L314.6,474.5 L314.6,471.3 L314.6,468.1 L314.6,464.9 L314.6,464.4Z M308.9,503.1 L308.9,503.5 L309.0,506.7 L309.1,509.9 L309.3,513.1 L309.4,516.4 L309.5,519.6 L309.7,522.9 L309.7,523.1 L316.0,522.8 L316.0,522.6 L315.8,519.3 L315.7,516.1 L315.5,512.9 L315.4,509.7 L315.3,506.5 L315.2,503.3 L315.2,503.0Z M310.7,541.4 L310.7,542.4 L310.9,545.6 L311.1,548.9 L311.4,552.1 L311.6,555.3 L311.8,558.5 L312.0,561.7 L312.1,562.8 L318.4,562.4 L318.3,561.3 L318.1,558.1 L317.9,554.9 L317.6,551.7 L317.4,548.5 L317.2,545.2 L317.0,542.0 L317.0,541.0Z M313.4,580.5 L313.4,581.0 L313.7,584.2 L314.0,587.4 L314.4,590.6 L314.7,593.9 L315.1,597.1 L315.5,600.3 L315.6,600.8 L321.8,600.0 L321.8,599.5 L321.4,596.3 L321.0,593.1 L320.6,590.0 L320.3,586.8 L320.0,583.6 L319.7,580.4 L319.7,579.9Z M318.2,619.0 L318.3,619.5 L318.7,622.7 L319.2,625.8 L319.6,629.0 L320.0,632.2 L320.4,635.4 L320.8,638.6 L320.9,639.1 L327.1,638.3 L327.1,637.9 L326.7,634.6 L326.2,631.4 L325.8,628.2 L325.4,625.0 L325.0,621.8 L324.5,618.6 L324.4,618.1Z M323.1,657.4 L323.2,657.9 L323.6,661.0 L323.9,664.0 L324.3,666.9 L324.7,670.4 L325.1,673.9 L325.3,676.3 L331.6,675.6 L331.3,673.2 L330.9,669.7 L330.5,666.1 L330.2,663.2 L329.8,660.2 L329.5,657.1 L329.4,656.7Z M327.2,693.1 L327.7,696.4 L328.3,699.4 L328.3,699.6 L334.5,698.5 L334.5,698.3 L333.9,695.3 L333.4,692.2Z M329.3,705.5 L329.6,708.1 L329.9,710.9 L330.2,713.9 L330.6,717.0 L330.9,720.1 L331.2,723.3 L331.5,726.3 L337.7,725.6 L337.4,722.6 L337.1,719.5 L336.8,716.4 L336.5,713.3 L336.2,710.3 L335.9,707.3 L335.5,704.7Z M344.1,710.1 L344.4,709.1 L345.7,706.0 L347.1,702.7 L348.5,699.4 L349.9,696.3 L351.3,693.5 L351.7,692.6 L346.2,689.6 L345.7,690.5 L344.2,693.6 L342.7,696.9 L341.3,700.2 L339.9,703.6 L338.6,706.9 L338.2,707.8Z M356.9,684.0 L357.2,683.7 L358.9,680.9 L360.7,678.1 L362.6,675.2 L364.6,672.4 L366.9,669.6 L367.1,669.3 L362.5,665.0 L362.1,665.4 L359.6,668.5 L357.4,671.7 L355.4,674.7 L353.6,677.6 L351.8,680.3 L351.6,680.6Z M378.9,658.1 L379.3,657.8 L381.7,655.7 L384.1,653.6 L386.6,651.5 L388.8,649.6 L391.0,647.6 L393.4,645.7 L394.2,645.0 L390.3,640.1 L389.4,640.8 L387.0,642.8 L384.7,644.8 L382.4,646.7 L380.0,648.9 L377.6,651.0 L375.2,653.0 L374.8,653.4Z M407.8,633.7 L408.3,633.3 L410.7,631.1 L413.1,628.8 L415.4,626.5 L417.6,624.2 L419.8,621.8 L421.9,619.4 L422.4,618.9 L417.6,614.8 L417.2,615.2 L415.1,617.5 L413.0,619.8 L410.8,622.1 L408.7,624.3 L406.4,626.5 L404.1,628.6 L403.7,628.9Z M433.8,604.7 L434.2,604.1 L436.0,601.4 L437.8,598.7 L439.4,595.9 L441.0,592.9 L442.5,590.0 L443.9,587.0 L444.1,586.4 L438.3,584.0 L438.1,584.4 L436.8,587.3 L435.4,590.0 L434.0,592.7 L432.4,595.4 L430.8,598.0 L429.0,600.5 L428.7,601.0Z M450.6,568.7 L450.7,568.3 L451.7,565.1 L452.6,562.0 L453.5,558.9 L454.4,555.7 L455.2,552.4 L456.0,549.1 L456.0,548.8 L449.9,547.5 L449.8,547.8 L449.1,551.0 L448.3,554.1 L447.5,557.1 L446.6,560.2 L445.7,563.3 L444.7,566.4 L444.6,566.8Z M459.3,531.3 L459.6,529.6 L460.1,526.5 L460.6,523.6 L461.0,520.9 L461.6,517.1 L462.0,513.5 L462.4,510.4 L456.2,509.6 L455.8,512.8 L455.3,516.2 L454.8,519.9 L454.4,522.7 L453.9,525.5 L453.4,528.5 L453.1,530.3Z M467.2,510.3 L467.5,513.4 L467.9,517.0 L468.4,520.8 L468.7,523.6 L469.1,526.5 L469.5,529.6 L469.7,531.2 L476.0,530.4 L475.8,528.8 L475.4,525.7 L475.0,522.8 L474.6,520.0 L474.2,516.3 L473.8,512.8 L473.5,509.7Z M472.5,549.4 L472.6,549.6 L473.2,553.0 L473.9,556.3 L474.6,559.5 L475.4,562.7 L476.2,565.9 L477.1,569.0 L477.2,569.5 L483.3,567.8 L483.2,567.3 L482.3,564.2 L481.5,561.2 L480.8,558.1 L480.1,554.9 L479.4,551.7 L478.8,548.5 L478.7,548.3Z M482.9,587.2 L483.0,587.7 L484.2,590.7 L485.4,593.8 L486.6,596.8 L487.9,599.8 L489.2,602.8 L490.5,605.8 L490.8,606.2 L496.5,603.5 L496.3,603.1 L494.9,600.2 L493.6,597.3 L492.4,594.4 L491.2,591.5 L490.1,588.5 L489.0,585.5 L488.8,585.1Z M499.3,622.8 L499.6,623.3 L501.2,626.1 L502.9,628.9 L504.6,631.7 L506.4,634.4 L508.2,637.0 L510.0,639.7 L510.4,640.3 L515.5,636.6 L515.1,636.0 L513.4,633.5 L511.6,630.9 L510.0,628.3 L508.3,625.6 L506.7,622.9 L505.1,620.2 L504.8,619.7Z M521.2,654.3 L521.6,654.9 L523.6,657.3 L525.6,659.8 L527.7,662.2 L529.6,664.5 L531.6,666.8 L533.6,669.1 L534.4,670.0 L539.1,665.8 L538.3,664.9 L536.4,662.7 L534.4,660.4 L532.5,658.2 L530.5,655.8 L528.5,653.3 L526.5,650.9 L526.1,650.4Z M547.2,683.8 L548.0,684.7 L550.1,686.9 L552.3,689.0 L554.4,691.1 L556.7,693.4 L559.0,695.6 L561.3,697.8 L561.8,698.2 L566.1,693.6 L565.6,693.2 L563.3,691.0 L561.1,688.9 L558.8,686.7 L556.7,684.6 L554.6,682.4 L552.6,680.3 L551.8,679.5Z M574.9,710.1 L575.4,710.5 L577.7,712.6 L580.0,714.7 L582.4,716.9 L584.6,719.0 L586.8,721.0 L589.1,723.0 L589.9,723.8 L594.1,719.1 L593.3,718.3 L591.0,716.3 L588.8,714.3 L586.6,712.3 L584.3,710.1 L582.0,708.0 L579.6,705.8 L579.1,705.4Z M603.5,736.4 L604.4,737.2 L606.3,739.4 L608.2,741.5 L610.0,743.7 L611.9,746.2 L613.6,748.7 L615.3,751.3 L615.6,751.8 L621.0,748.4 L620.6,747.9 L618.8,745.2 L617.0,742.5 L615.0,739.9 L613.1,737.5 L611.0,735.1 L608.9,732.9 L608.0,732.0Z M624.2,767.2 L624.5,767.7 L625.9,770.6 L627.2,773.4 L628.5,776.3 L629.8,779.2 L631.1,782.1 L632.3,785.0 L632.5,785.5 L638.3,783.2 L638.1,782.7 L636.9,779.7 L635.6,776.7 L634.3,773.7 L632.9,770.8 L631.5,767.9 L630.1,765.0 L629.9,764.4Z M638.5,802.6 L638.7,803.1 L639.6,806.1 L640.5,809.2 L641.4,812.2 L642.2,815.3 L643.0,818.4 L643.7,821.5 L643.8,821.9 L649.9,820.6 L649.8,820.0 L649.1,816.9 L648.3,813.7 L647.4,810.6 L646.6,807.4 L645.6,804.3 L644.7,801.2 L644.5,800.7Z M647.3,839.8 L647.4,840.3 L647.9,843.4 L648.4,846.6 L648.9,849.8 L649.3,852.9 L649.8,856.1 L650.2,859.3 L650.2,859.7 L656.5,859.0 L656.4,858.6 L656.0,855.3 L655.6,852.1 L655.1,848.8 L654.6,845.6 L654.1,842.4 L653.6,839.2 L653.5,838.7Z M652.0,878.1 L652.0,878.6 L652.3,881.8 L652.5,885.0 L652.8,888.2 L653.0,891.4 L653.2,894.7 L653.4,897.9 L653.4,898.3 L659.7,898.0 L659.7,897.6 L659.5,894.3 L659.3,891.0 L659.0,887.8 L658.8,884.5 L658.5,881.3 L658.3,878.1 L658.3,877.6Z M654.2,916.1 L654.3,917.3 L654.4,920.5 L654.5,923.5 L654.7,926.5 L654.8,929.9 L655.0,933.3 L655.1,936.6 L655.1,936.9 L661.4,936.7 L661.4,936.3 L661.3,933.0 L661.1,929.6 L660.9,926.3 L660.8,923.3 L660.7,920.2 L660.6,917.1 L660.5,915.9Z M655.9,955.2 L656.0,958.6 L656.1,962.0 L656.1,965.3 L656.2,968.5 L656.3,971.8 L656.3,975.0 L662.6,974.8 L662.6,971.6 L662.5,968.4 L662.4,965.2 L662.3,961.9 L662.3,958.4 L662.2,955.0Z M663.3,963.1 L663.4,963.0 L663.5,959.9 L663.6,956.6 L663.7,953.1 L663.9,950.3 L664.0,947.3 L664.0,944.2 L664.1,943.2 L657.8,943.0 L657.8,944.0 L657.7,947.1 L657.6,950.1 L657.5,952.9 L657.3,956.3 L657.2,959.6 L657.1,962.7 L657.1,962.8Z M664.7,925.1 L664.7,924.5 L664.8,921.2 L665.0,917.9 L665.1,914.7 L665.3,911.5 L665.5,908.2 L665.7,905.0 L665.8,904.2 L659.5,903.8 L659.4,904.6 L659.2,907.9 L659.0,911.1 L658.9,914.3 L658.7,917.6 L658.5,920.9 L658.4,924.3 L658.4,924.9Z M667.1,886.2 L667.1,885.7 L667.4,882.5 L667.7,879.3 L667.9,876.1 L668.2,872.9 L668.5,869.7 L668.8,866.5 L668.8,866.0 L662.5,865.4 L662.5,865.9 L662.2,869.1 L661.9,872.3 L661.7,875.5 L661.4,878.7 L661.1,882.0 L660.8,885.2 L660.8,885.7Z M670.6,847.9 L670.7,847.4 L671.1,844.3 L671.5,841.1 L672.0,838.0 L672.5,834.9 L673.1,831.7 L673.7,828.5 L673.8,828.1 L667.6,826.9 L667.5,827.3 L666.9,830.6 L666.3,833.8 L665.8,837.0 L665.3,840.2 L664.8,843.4 L664.4,846.6 L664.3,847.2Z M677.8,810.1 L677.9,809.7 L678.7,806.6 L679.6,803.6 L680.5,800.5 L681.5,797.6 L682.4,794.6 L683.5,791.6 L683.7,791.0 L677.8,788.9 L677.5,789.5 L676.5,792.6 L675.5,795.6 L674.5,798.7 L673.5,801.8 L672.7,804.9 L671.8,808.1 L671.7,808.6Z M690.2,774.8 L690.4,774.2 L691.7,771.3 L693.0,768.5 L694.3,765.7 L695.7,762.8 L697.2,760.0 L698.6,757.2 L698.9,756.7 L693.3,753.8 L693.1,754.2 L691.6,757.1 L690.1,760.0 L688.7,762.9 L687.3,765.8 L686.0,768.7 L684.6,771.7 L684.4,772.3Z M708.0,740.9 L708.2,740.5 L709.9,737.7 L711.6,735.0 L713.3,732.3 L715.0,729.6 L716.7,727.0 L718.5,724.4 L718.8,724.0 L713.7,720.3 L713.4,720.8 L711.5,723.5 L709.7,726.2 L707.9,728.9 L706.2,731.7 L704.5,734.4 L702.8,737.2 L702.6,737.6Z M729.5,709.1 L729.8,708.7 L731.6,706.0 L733.5,703.3 L735.3,700.7 L737.1,698.0 L738.9,695.3 L740.7,692.6 L741.0,692.2 L735.7,688.7 L735.5,689.1 L733.7,691.8 L731.9,694.5 L730.1,697.1 L728.3,699.8 L726.5,702.4 L724.6,705.0 L724.4,705.4Z M751.1,676.4 L751.3,676.0 L753.0,673.2 L754.6,670.4 L756.2,667.5 L757.7,664.6 L759.2,661.8 L760.6,658.9 L760.9,658.3 L755.2,655.6 L754.9,656.1 L753.5,658.9 L752.1,661.7 L750.6,664.5 L749.1,667.3 L747.5,670.0 L745.9,672.8 L745.7,673.2Z M768.3,641.8 L768.5,641.2 L769.7,638.2 L770.9,635.2 L772.1,632.2 L773.2,629.2 L774.2,626.1 L775.3,623.1 L775.5,622.5 L769.5,620.5 L769.3,621.1 L768.3,624.1 L767.2,627.0 L766.1,630.0 L765.0,632.9 L763.9,635.9 L762.7,638.8 L762.5,639.3Z M780.7,605.0 L780.9,604.5 L781.7,601.3 L782.5,598.2 L783.3,595.0 L784.0,592.0 L784.6,588.9 L785.3,585.8 L785.4,585.0 L779.2,583.8 L779.1,584.5 L778.5,587.6 L777.8,590.6 L777.1,593.6 L776.4,596.7 L775.6,599.7 L774.8,602.8 L774.7,603.3Z M788.7,566.2 L789.1,564.0 L789.5,561.2 L789.9,558.6 L790.3,556.2 L790.9,552.6 L791.4,549.4 L791.8,546.4 L791.8,546.1 L785.6,545.2 L785.5,545.5 L785.1,548.5 L784.7,551.6 L784.1,555.2 L783.7,557.6 L783.3,560.2 L782.8,563.0 L782.5,565.2Z M797.5,551.3 L797.8,554.3 L798.3,557.8 L798.9,561.5 L799.4,564.3 L799.9,567.2 L800.4,570.2 L800.7,571.6 L806.9,570.4 L806.6,569.1 L806.1,566.1 L805.6,563.2 L805.1,560.5 L804.5,556.9 L804.1,553.5 L803.7,550.6Z M804.5,589.5 L804.6,589.8 L805.5,593.1 L806.5,596.4 L807.5,599.5 L808.6,602.6 L809.8,605.7 L811.0,608.7 L811.2,609.2 L817.0,606.8 L816.8,606.4 L815.7,603.4 L814.5,600.4 L813.5,597.5 L812.5,594.5 L811.6,591.4 L810.7,588.3 L810.6,588.0Z M819.2,626.2 L819.5,626.7 L821.2,629.5 L822.9,632.3 L824.7,635.1 L826.6,637.7 L828.5,640.4 L830.6,642.9 L831.0,643.4 L835.8,639.4 L835.5,639.0 L833.5,636.5 L831.7,634.0 L829.9,631.5 L828.2,628.9 L826.6,626.3 L825.0,623.6 L824.7,623.2Z M843.6,656.9 L844.0,657.3 L846.5,659.5 L848.9,661.7 L851.4,663.8 L854.0,665.8 L856.7,667.7 L859.4,669.5 L860.0,669.9 L863.3,664.5 L862.9,664.3 L860.3,662.5 L857.8,660.7 L855.4,658.8 L853.0,656.9 L850.6,654.8 L848.3,652.7 L847.9,652.3Z M876.1,679.1 L876.5,679.3 L879.3,680.9 L882.2,682.4 L885.0,684.0 L887.9,685.6 L890.9,687.2 L894.0,688.8 L896.9,683.2 L893.9,681.6 L890.9,680.0 L888.0,678.4 L885.2,676.9 L882.3,675.3 L879.5,673.8 L879.1,673.6Z M910.0,697.0 L912.1,698.0 L914.8,699.4 L917.2,700.6 L919.3,701.8 L922.4,703.5 L925.0,704.9 L927.4,706.3 L928.4,706.9 L931.5,701.4 L930.5,700.8 L928.1,699.4 L925.4,697.9 L922.3,696.2 L920.1,695.1 L917.6,693.8 L915.0,692.4 L912.9,691.4Z M940.5,698.7 L941.0,684.2 L942.9,683.6 L940.7,677.6 L934.8,679.8 L934.3,698.5Z M943.6,681.7 L945.9,682.2 L946.9,683.1 L948.5,685.5 L950.3,688.2 L952.2,691.3 L954.3,694.9 L956.7,697.3 L961.1,692.9 L959.3,691.0 L957.6,688.1 L955.7,684.8 L953.7,682.0 L951.7,679.1 L949.1,676.4 L945.0,675.5Z M975.0,701.6 L974.9,701.6 L977.9,702.4 L980.9,703.4 L984.2,704.5 L987.6,705.7 L991.1,706.7 L994.7,707.6 L996.1,701.4 L992.7,700.6 L989.5,699.7 L986.2,698.6 L983.0,697.4 L979.7,696.4 L976.3,695.4 L976.1,695.4Z M1013.5,709.3 L1013.7,709.3 L1017.0,709.5 L1020.3,709.7 L1023.6,709.8 L1026.6,710.0 L1029.7,710.2 L1032.8,710.4 L1033.7,710.5 L1034.1,704.2 L1033.2,704.1 L1030.1,703.9 L1027.0,703.7 L1024.0,703.6 L1020.6,703.4 L1017.3,703.2 L1014.0,703.1 L1013.8,703.0Z M1052.1,711.4 L1052.5,711.5 L1055.8,711.6 L1059.1,711.7 L1062.3,711.7 L1065.6,711.8 L1068.8,711.8 L1072.1,711.9 L1072.5,711.9 L1072.6,705.6 L1072.1,705.6 L1068.9,705.5 L1065.7,705.5 L1062.5,705.5 L1059.2,705.4 L1056.0,705.3 L1052.7,705.2 L1052.4,705.1Z M1091.1,711.7 L1091.6,711.7 L1094.9,711.5 L1098.1,711.4 L1101.4,711.2 L1104.6,711.1 L1107.8,710.8 L1111.0,710.6 L1111.6,710.6 L1111.1,704.3 L1110.5,704.3 L1107.3,704.6 L1104.2,704.8 L1101.0,705.0 L1097.8,705.1 L1094.6,705.2 L1091.4,705.4 L1091.0,705.4Z M1129.5,708.8 L1130.1,708.8 L1133.2,708.4 L1136.4,708.0 L1139.6,707.6 L1142.8,707.2 L1146.0,706.8 L1149.2,706.5 L1149.7,706.4 L1148.9,700.1 L1148.4,700.2 L1145.2,700.6 L1142.0,701.0 L1138.8,701.4 L1135.7,701.8 L1132.5,702.1 L1129.4,702.5 L1128.8,702.6Z M1168.1,703.7 L1168.6,703.7 L1171.8,703.1 L1175.0,702.4 L1178.2,701.7 L1181.4,700.9 L1184.5,700.1 L1187.7,699.3 L1188.2,699.2 L1186.5,693.1 L1186.0,693.2 L1183.0,694.0 L1179.9,694.8 L1176.8,695.5 L1173.7,696.2 L1170.6,696.9 L1167.5,697.5 L1167.0,697.5Z M1205.8,693.6 L1206.4,693.4 L1209.5,692.2 L1212.5,690.9 L1215.4,689.5 L1218.4,688.1 L1221.4,686.5 L1224.5,684.9 L1224.7,684.8 L1221.6,679.3 L1221.4,679.4 L1218.5,681.0 L1215.6,682.5 L1212.8,683.9 L1209.9,685.1 L1207.1,686.4 L1204.2,687.5 L1203.7,687.7Z M1240.5,674.8 L1241.7,673.9 L1244.2,671.9 L1246.5,670.0 L1248.7,668.1 L1251.4,665.3 L1253.6,662.4 L1255.4,659.7 L1250.2,656.1 L1248.5,658.7 L1246.6,661.1 L1244.3,663.5 L1242.4,665.2 L1240.3,667.0 L1237.9,668.8 L1236.8,669.7Z M1265.7,645.6 L1266.4,644.8 L1268.4,642.3 L1270.3,639.8 L1272.1,637.2 L1273.8,634.2 L1275.2,631.3 L1276.5,628.3 L1276.8,627.6 L1271.0,625.2 L1270.7,625.9 L1269.5,628.6 L1268.2,631.2 L1266.7,633.8 L1265.2,636.1 L1263.4,638.4 L1261.5,640.8 L1260.9,641.5Z M1283.2,609.8 L1284.2,606.6 L1285.2,603.3 L1286.1,599.9 L1286.8,596.8 L1287.5,593.6 L1288.1,590.3 L1288.2,589.7 L1282.0,588.6 L1281.9,589.1 L1281.3,592.4 L1280.6,595.4 L1279.9,598.3 L1279.1,601.6 L1278.2,604.8 L1277.2,607.9Z M1291.2,573.1 L1291.4,572.1 L1292.1,568.8 L1292.7,565.8 L1293.4,563.1 L1294.0,560.8 L1295.1,557.9 L1296.2,555.1 L1290.4,552.7 L1289.2,555.6 L1288.0,558.8 L1287.2,561.5 L1286.6,564.4 L1285.9,567.5 L1285.2,570.9 L1285.0,571.9Z M1295.8,572.6 L1295.8,572.8 L1296.1,576.1 L1296.5,579.3 L1296.9,582.7 L1297.4,586.0 L1297.9,589.5 L1298.4,592.9 L1298.4,593.2 L1304.6,592.3 L1304.6,592.0 L1304.1,588.6 L1303.6,585.2 L1303.2,581.8 L1302.7,578.5 L1302.4,575.4 L1302.0,572.2 L1302.0,572.0Z M1301.0,611.3 L1301.4,613.8 L1301.9,617.2 L1302.4,620.5 L1302.9,623.5 L1303.5,627.2 L1304.0,630.8 L1304.2,631.9 L1310.4,630.6 L1310.2,629.7 L1309.7,626.3 L1309.1,622.5 L1308.6,619.5 L1308.1,616.2 L1307.6,612.8 L1307.2,610.4Z M1312.9,649.1 L1314.2,651.8 L1315.7,654.8 L1317.4,658.2 L1318.5,660.4 L1319.7,662.9 L1321.0,665.5 L1321.9,667.3 L1327.5,664.5 L1326.7,662.7 L1325.4,660.1 L1324.1,657.6 L1323.0,655.4 L1321.3,652.0 L1319.8,649.0 L1318.5,646.3Z M1330.0,683.3 L1330.1,683.4 L1331.7,686.5 L1333.4,689.5 L1335.1,692.3 L1336.7,694.9 L1338.3,697.5 L1340.0,700.1 L1340.6,701.0 L1345.8,697.5 L1345.3,696.7 L1343.6,694.1 L1342.0,691.6 L1340.5,689.1 L1338.9,686.3 L1337.3,683.4 L1335.6,680.5 L1335.6,680.4Z M1351.7,716.9 L1352.3,717.7 L1354.1,720.2 L1356.0,722.6 L1357.8,725.0 L1359.8,727.6 L1361.9,730.1 L1363.9,732.6 L1364.3,733.0 L1369.1,729.0 L1368.8,728.6 L1366.7,726.2 L1364.8,723.7 L1362.8,721.2 L1361.0,718.8 L1359.2,716.4 L1357.4,714.0 L1356.7,713.1Z M1376.2,746.9 L1376.6,747.3 L1378.7,749.7 L1380.7,752.1 L1382.8,754.5 L1384.8,757.0 L1386.9,759.4 L1388.9,761.8 L1389.3,762.3 L1394.1,758.3 L1393.7,757.8 L1391.7,755.4 L1389.7,752.9 L1387.6,750.5 L1385.5,748.0 L1383.4,745.6 L1381.3,743.1 L1381.0,742.7Z M1400.6,776.1 L1401.0,776.5 L1403.0,779.0 L1405.0,781.5 L1406.9,784.0 L1408.9,786.5 L1411.0,789.0 L1413.0,791.5 L1413.3,791.9 L1418.2,788.0 L1417.9,787.6 L1415.9,785.1 L1413.9,782.6 L1411.9,780.0 L1409.9,777.5 L1407.9,775.0 L1405.9,772.6 L1405.5,772.1Z M1424.5,806.5 L1424.8,806.8 L1426.7,809.4 L1428.6,812.0 L1430.4,814.6 L1432.3,817.2 L1434.1,819.9 L1436.0,822.5 L1436.2,822.9 L1441.4,819.3 L1441.1,818.9 L1439.3,816.3 L1437.4,813.6 L1435.6,811.0 L1433.7,808.3 L1431.8,805.7 L1429.9,803.1 L1429.6,802.7Z M1446.0,838.0 L1446.3,838.5 L1447.8,841.2 L1449.2,843.9 L1450.5,846.7 L1451.8,849.5 L1452.9,852.4 L1454.0,855.4 L1454.1,855.8 L1460.1,853.8 L1459.9,853.3 L1458.8,850.2 L1457.6,847.1 L1456.3,844.1 L1454.9,841.1 L1453.4,838.2 L1451.8,835.3 L1451.4,834.8Z M1459.1,873.3 L1459.2,873.7 L1459.9,876.9 L1460.7,880.0 L1461.4,883.1 L1462.1,886.2 L1462.8,889.3 L1463.5,892.4 L1463.6,892.9 L1469.7,891.7 L1469.6,891.2 L1469.0,888.0 L1468.3,884.8 L1467.6,881.7 L1466.8,878.5 L1466.1,875.4 L1465.3,872.2 L1465.2,871.8Z M1466.6,910.8 L1466.7,911.3 L1467.2,914.5 L1467.6,917.7 L1468.1,920.8 L1468.5,924.0 L1468.9,927.2 L1469.3,930.4 L1469.3,930.8 L1475.6,930.1 L1475.5,929.7 L1475.1,926.4 L1474.7,923.2 L1474.3,920.0 L1473.9,916.8 L1473.4,913.6 L1472.9,910.4 L1472.9,909.9Z M1471.0,949.3 L1471.1,949.6 L1471.3,952.8 L1471.6,956.0 L1471.9,959.3 L1472.1,962.5 L1472.3,965.7 L1472.6,969.1 L1472.6,969.2 L1478.9,968.8 L1478.9,968.7 L1478.6,965.3 L1478.4,962.0 L1478.1,958.7 L1477.9,955.5 L1477.6,952.3 L1477.3,949.1 L1477.3,948.8Z M1473.7,987.2 L1473.7,988.8 L1473.9,991.8 L1474.1,994.8 L1474.4,997.7 L1474.7,1001.2 L1475.0,1004.6 L1475.4,1007.8 L1475.4,1008.1 L1481.7,1007.4 L1481.6,1007.1 L1481.3,1003.9 L1480.9,1000.6 L1480.6,997.1 L1480.4,994.4 L1480.2,991.4 L1480.0,988.4 L1479.9,986.8Z M1476.0,1013.2 L1476.0,1013.8 L1476.2,1016.5 L1476.3,1019.1 L1476.3,1023.1 L1476.1,1026.7 L1475.9,1030.5 L1482.1,1030.9 L1482.4,1027.1 L1482.6,1023.3 L1482.7,1018.9 L1482.5,1016.1 L1482.3,1013.2 L1482.2,1012.6Z M1481.6,1030.8 L1481.8,1026.0 L1475.5,1025.8 L1475.4,1030.6Z M1484.4,995.1 L1484.4,995.1 L1484.8,991.7 L1485.1,988.3 L1485.3,985.2 L1485.6,981.9 L1485.9,978.7 L1486.1,975.5 L1486.1,975.2 L1479.9,974.7 L1479.8,975.0 L1479.6,978.2 L1479.3,981.4 L1479.1,984.6 L1478.8,987.8 L1478.5,991.1 L1478.2,994.6 L1478.2,994.6Z M1487.6,957.1 L1487.6,956.4 L1487.9,953.2 L1488.3,950.0 L1488.6,946.9 L1489.0,943.7 L1489.4,940.5 L1489.8,937.3 L1489.9,936.6 L1483.6,935.8 L1483.5,936.5 L1483.1,939.7 L1482.8,942.9 L1482.4,946.1 L1482.0,949.3 L1481.7,952.6 L1481.4,955.8 L1481.3,956.6Z M1492.5,918.8 L1492.6,918.3 L1493.2,915.2 L1493.8,912.1 L1494.6,909.1 L1495.3,906.0 L1496.2,903.0 L1497.0,899.9 L1497.2,899.4 L1491.2,897.6 L1491.0,898.2 L1490.1,901.3 L1489.2,904.4 L1488.4,907.5 L1487.7,910.7 L1487.0,913.9 L1486.4,917.1 L1486.3,917.7Z M1503.0,882.7 L1503.2,882.1 L1504.4,879.2 L1505.6,876.4 L1506.9,873.6 L1508.3,870.7 L1509.7,867.9 L1511.2,865.1 L1511.4,864.6 L1505.9,861.6 L1505.6,862.1 L1504.1,865.0 L1502.7,867.9 L1501.3,870.8 L1499.9,873.8 L1498.6,876.8 L1497.3,879.8 L1497.1,880.3Z M1520.7,849.3 L1521.0,848.8 L1522.9,846.3 L1524.8,843.9 L1526.8,841.6 L1528.8,839.3 L1531.0,837.1 L1533.3,835.0 L1533.6,834.7 L1529.5,829.9 L1529.0,830.3 L1526.6,832.6 L1524.3,835.0 L1522.0,837.4 L1519.9,839.9 L1517.9,842.5 L1515.9,845.2 L1515.5,845.7Z M1547.9,823.4 L1548.2,823.2 L1550.9,821.3 L1553.5,819.5 L1556.2,817.7 L1558.8,816.0 L1561.4,814.3 L1564.0,812.7 L1564.6,812.4 L1561.4,807.0 L1560.8,807.3 L1558.0,809.0 L1555.3,810.7 L1552.6,812.5 L1550.0,814.3 L1547.3,816.1 L1544.6,818.0 L1544.2,818.3Z M1579.9,804.0 L1580.5,803.7 L1583.3,802.3 L1586.1,800.9 L1589.0,799.5 L1591.8,798.2 L1594.7,796.9 L1597.6,795.7 L1598.1,795.5 L1595.6,789.6 L1595.1,789.9 L1592.1,791.2 L1589.2,792.5 L1586.2,793.9 L1583.4,795.2 L1580.5,796.7 L1577.7,798.1 L1577.1,798.4Z M1614.8,788.8 L1615.3,788.6 L1618.3,787.4 L1621.3,786.2 L1624.3,785.0 L1627.2,783.8 L1630.1,782.6 L1633.0,781.4 L1633.7,781.1 L1631.2,775.3 L1630.6,775.6 L1627.7,776.8 L1624.8,778.0 L1621.9,779.2 L1619.0,780.4 L1616.0,781.5 L1613.0,782.7 L1612.5,782.9Z M1649.7,774.4 L1650.4,774.2 L1653.3,773.1 L1656.2,772.0 L1659.1,771.0 L1662.1,770.0 L1665.1,769.1 L1668.2,768.2 L1668.6,768.1 L1667.0,762.0 L1666.5,762.1 L1663.3,763.0 L1660.2,764.0 L1657.1,765.0 L1654.1,766.1 L1651.1,767.2 L1648.1,768.3 L1647.4,768.6Z M1686.6,763.4 L1687.0,763.3 L1690.2,762.4 L1693.4,761.5 L1696.5,760.6 L1699.6,759.7 L1702.7,758.7 L1705.8,757.7 L1706.3,757.6 L1704.3,751.6 L1703.9,751.7 L1700.8,752.7 L1697.8,753.6 L1694.7,754.6 L1691.6,755.5 L1688.5,756.3 L1685.4,757.2 L1685.0,757.3Z M1723.8,751.8 L1724.2,751.6 L1727.3,750.6 L1730.3,749.6 L1733.4,748.6 L1736.4,747.6 L1739.5,746.5 L1742.6,745.5 L1743.0,745.3 L1741.0,739.4 L1740.6,739.5 L1737.5,740.6 L1734.4,741.6 L1731.4,742.6 L1728.4,743.6 L1725.3,744.6 L1722.2,745.7 L1721.8,745.8Z M1759.8,739.6 L1760.9,739.2 L1763.8,738.3 L1766.6,737.4 L1769.4,736.5 L1772.8,735.5 L1776.4,734.6 L1779.0,734.0 L1777.6,727.9 L1774.9,728.5 L1771.2,729.5 L1767.6,730.5 L1764.8,731.4 L1761.9,732.3 L1758.9,733.2 L1757.8,733.6Z M1794.4,729.8 L1795.5,729.4 L1798.6,727.2 L1800.3,725.9 L1802.8,725.4 L1805.1,727.1 L1807.0,730.6 L1807.9,731.9 L1813.0,728.2 L1812.3,727.2 L1809.9,722.9 L1804.2,718.6 L1797.7,720.1 L1794.9,722.1 L1792.5,723.8 L1792.0,724.0Z M1821.6,712.8 L1823.7,711.2 L1826.4,709.5 L1829.8,707.3 L1831.8,706.0 L1834.0,704.5 L1836.3,702.9 L1838.2,701.5 L1834.7,696.4 L1832.7,697.7 L1830.4,699.3 L1828.2,700.8 L1826.4,702.1 L1823.0,704.2 L1820.1,706.0 L1817.7,707.9Z M1852.7,691.4 L1852.8,691.4 L1855.6,689.4 L1858.3,687.4 L1861.0,685.4 L1863.6,683.5 L1866.2,681.6 L1868.8,679.7 L1869.1,679.4 L1865.4,674.4 L1865.0,674.6 L1862.4,676.5 L1859.8,678.5 L1857.2,680.4 L1854.6,682.3 L1851.9,684.2 L1849.1,686.2 L1849.1,686.3Z M1884.0,668.1 L1884.4,667.8 L1886.9,665.7 L1889.4,663.5 L1891.8,661.3 L1894.3,659.0 L1896.7,656.6 L1899.1,654.2 L1899.2,654.0 L1894.6,649.7 L1894.5,649.8 L1892.2,652.2 L1889.9,654.5 L1887.6,656.7 L1885.2,658.8 L1882.8,660.9 L1880.4,662.9 L1880.0,663.2Z M1911.8,640.2 L1912.6,639.3 L1914.6,636.9 L1916.6,634.7 L1918.5,632.6 L1920.8,629.9 L1922.9,627.3 L1925.0,624.8 L1925.1,624.7 L1920.2,620.7 L1920.1,620.8 L1918.1,623.3 L1916.0,625.9 L1913.7,628.4 L1911.9,630.5 L1909.9,632.8 L1907.8,635.1 L1907.0,636.0Z M1937.3,612.9 L1940.4,612.6 L1944.3,614.7 L1946.2,616.2 L1948.4,618.3 L1950.9,620.8 L1951.7,621.5 L1956.1,617.1 L1955.4,616.3 L1952.8,613.7 L1950.3,611.4 L1947.7,609.3 L1941.6,606.2 L1936.7,606.7Z M1965.3,635.1 L1967.6,637.5 L1969.8,640.0 L1971.8,642.5 L1973.7,645.1 L1975.6,647.9 L1977.3,650.7 L1982.6,647.3 L1980.9,644.5 L1978.9,641.5 L1976.8,638.7 L1974.6,636.0 L1972.2,633.3 L1969.9,630.8Z M1986.2,666.3 L1987.1,668.0 L1988.6,671.2 L1990.3,674.2 L1992.4,677.3 L1995.2,680.0 L1998.7,681.4 L2002.1,682.1 L2003.4,675.9 L2000.5,675.3 L1998.8,674.6 L1997.3,673.2 L1995.7,670.8 L1994.2,668.3 L1992.7,665.2 L1991.7,663.3Z M2018.0,684.8 L2019.2,685.4 L2021.3,686.9 L2023.5,688.6 L2025.7,690.5 L2028.1,692.6 L2030.6,694.7 L2033.3,696.7 L2034.8,697.7 L2038.2,692.4 L2036.9,691.6 L2034.6,689.8 L2032.2,687.8 L2029.9,685.8 L2027.5,683.7 L2025.0,681.8 L2022.4,680.0 L2020.8,679.2Z M2051.5,705.2 L2054.5,706.3 L2057.7,707.5 L2060.9,708.8 L2063.6,710.0 L2066.4,711.2 L2069.4,712.5 L2070.1,712.8 L2072.7,707.1 L2071.9,706.7 L2069.0,705.4 L2066.1,704.2 L2063.3,703.0 L2060.0,701.6 L2056.7,700.4 L2053.7,699.3Z M2087.0,720.2 L2087.7,720.5 L2090.7,721.8 L2093.6,723.0 L2096.4,724.1 L2099.6,725.4 L2102.7,726.6 L2105.9,727.7 L2106.0,727.8 L2108.2,721.9 L2108.1,721.8 L2105.0,720.7 L2101.8,719.5 L2098.8,718.3 L2096.0,717.2 L2093.1,716.0 L2090.2,714.7 L2089.5,714.4Z M2122.2,733.5 L2122.4,733.6 L2125.7,734.8 L2128.9,735.9 L2132.7,736.5 L2137.0,735.6 L2140.6,734.2 L2143.7,733.8 L2142.8,727.5 L2139.0,728.1 L2135.2,729.5 L2132.5,730.1 L2130.4,729.8 L2127.8,728.9 L2124.4,727.6 L2124.2,727.6Z M2158.7,741.2 L2161.1,742.6 L2164.1,744.6 L2167.2,746.6 L2170.3,748.4 L2173.2,750.1 L2175.8,751.8 L2179.3,746.6 L2176.5,744.8 L2173.5,743.0 L2170.6,741.2 L2167.5,739.3 L2164.4,737.2 L2161.9,735.8Z M2190.7,763.1 L2193.7,764.5 L2197.2,765.5 L2200.5,766.6 L2203.4,767.7 L2206.3,768.8 L2209.3,770.1 L2209.3,770.1 L2212.5,764.7 L2212.1,764.5 L2208.7,762.9 L2205.6,761.8 L2202.5,760.6 L2199.1,759.5 L2195.9,758.5 L2193.2,757.4Z M2224.8,779.7 L2227.8,781.2 L2231.8,782.8 L2236.0,783.7 L2240.2,783.5 L2244.4,782.6 L2248.0,780.8 L2245.2,775.2 L2242.3,776.6 L2239.4,777.3 L2236.6,777.3 L2233.6,776.8 L2230.4,775.4 L2227.6,774.1Z M2259.1,765.8 L2259.0,766.0 L2261.1,764.3 L2263.3,763.1 L2265.8,762.1 L2268.7,761.5 L2271.6,760.8 L2274.4,760.4 L2277.3,760.7 L2277.9,754.4 L2274.3,754.1 L2270.5,754.6 L2267.3,755.3 L2263.9,756.1 L2260.7,757.3 L2257.6,759.0 L2254.4,761.6 L2254.1,762.0Z M2290.5,770.5 L2291.4,771.0 L2295.6,771.8 L2299.1,771.7 L2302.3,771.7 L2306.1,771.0 L2310.3,768.6 L2313.8,766.7 L2310.7,761.1 L2307.2,763.1 L2303.9,765.0 L2301.7,765.4 L2298.9,765.5 L2296.2,765.5 L2293.6,765.0 L2293.5,765.0Z M2325.5,765.8 L2325.4,765.8 L2328.8,766.2 L2332.2,766.8 L2335.9,767.3 L2339.6,767.4 L2343.0,767.4 L2346.3,767.6 L2346.3,767.6 L2347.6,761.5 L2347.3,761.4 L2343.2,761.1 L2339.7,761.1 L2336.5,761.1 L2333.2,760.6 L2329.7,760.0 L2325.8,759.6 L2325.6,759.5Z M2362.8,772.3 L2366.1,772.9 L2369.4,773.4 L2372.6,773.7 L2375.8,774.1 L2376.6,767.9 L2373.4,767.5 L2370.2,767.1 L2367.1,766.7 L2364.0,766.1Z" fill="#0000ff" fill-rule="evenodd" stroke="#0000ff" stroke-width="0.8" stroke-linejoin="miter"/>
<rect x="329.3" y="686.3" width="5.4" height="6.5" fill="none" stroke="#0000ff" stroke-width="0.9"/>
<rect x="329.3" y="712.3" width="6.5" height="16.5" fill="none" stroke="#0000ff" stroke-width="0.9"/>
<rect x="338.1" y="712.6" width="3.6" height="9.9" fill="none" stroke="#0000ff" stroke-width="0.9"/>
<polyline points="461.4,491.9 464.0,474.8 467.0,474.8 468.6,491.9" fill="none" stroke="#0000ff" stroke-width="7" stroke-linejoin="miter" stroke-miterlimit="10"/>
<polyline points="790.7,527.8 791.0,507.2" fill="none" stroke="#0000ff" stroke-width="7" stroke-linejoin="miter" stroke-miterlimit="10"/>
<polyline points="798.4,512.0 798.5,533.0" fill="none" stroke="#0000ff" stroke-width="7" stroke-linejoin="miter" stroke-miterlimit="10"/>
<line x1="776.7" y1="227.4" x2="563.7" y2="606.8" stroke="#ff0000" stroke-width="5.1"/>
<polygon points="545.9,632.6 552.1,621.8 553.2,611.2 555.3,598.2 557.4,590 561.8,602.9 567.1,605.6 571.4,604.8 575,608.6 567.1,614.7 555.3,625.9" fill="#ff0000"/>
<line x1="1583.0" y1="392.6" x2="1697.8" y2="719" stroke="#0000ff" stroke-width="5.6"/>
<polygon points="1705,746.8 1701.2,735.9 1691.2,724.7 1681.2,711.8 1693.5,715.6 1699.1,712.9 1702.4,708.2 1706.8,710.9 1705.9,735.5" fill="#0000ff"/>
<g font-family="'Liberation Sans', Arial, Helvetica, sans-serif" fill="#404040" font-size="77.8">
<text x="280.0" y="1231.3" text-anchor="middle" transform="translate(9.56,0) scale(0.9676,1)">0</text>
<text x="804.1" y="1231.3" text-anchor="middle" transform="translate(11.57,0) scale(0.9854,1)">500</text>
<text x="1328.2" y="1231.3" text-anchor="middle" transform="translate(45.15,0) scale(0.9665,1)">1000</text>
<text x="1852.1" y="1231.3" text-anchor="middle" transform="translate(78.33,0) scale(0.9585,1)">1500</text>
<text x="2374.3" y="1231.3" text-anchor="middle" transform="translate(41.04,0) scale(0.9825,1)">2000</text>
<text x="142.5" y="143" transform="translate(11.58,0) scale(0.9346,1)">10</text><text x="225.3" y="106.4" font-size="62.2" transform="translate(7.20,0) scale(0.9759,1)">0</text>
<text x="123.6" y="791" transform="translate(9.57,0) scale(0.9397,1)">10</text><text x="207" y="754.3" font-size="62.2" transform="translate(4.10,0) scale(0.9800,1)">-5</text>
</g>
<g font-family="'Liberation Sans', Arial, Helvetica, sans-serif" fill="#404040" font-size="75.8">
<text x="1328.2" y="1319" text-anchor="middle" transform="translate(2.73,0) scale(0.9973,1)">Frequency (Hz)</text>
<text transform="translate(100.1,578.5) rotate(-90)" text-anchor="middle">Magnitude (m/s<tspan font-size="62.5" dy="-37">2</tspan><tspan dy="37">/N)</tspan></text>
</g>
<text x="448.6" y="164.6" font-family="'Liberation Sans', Arial, Helvetica, sans-serif" font-size="75.9" fill="#ff0000">Nanocomposite sensor</text>
<text x="1270" y="350.7" font-family="'Liberation Sans', Arial, Helvetica, sans-serif" font-size="75.8" fill="#0000ff">Reference sensor</text>
</svg>
</body></html>
